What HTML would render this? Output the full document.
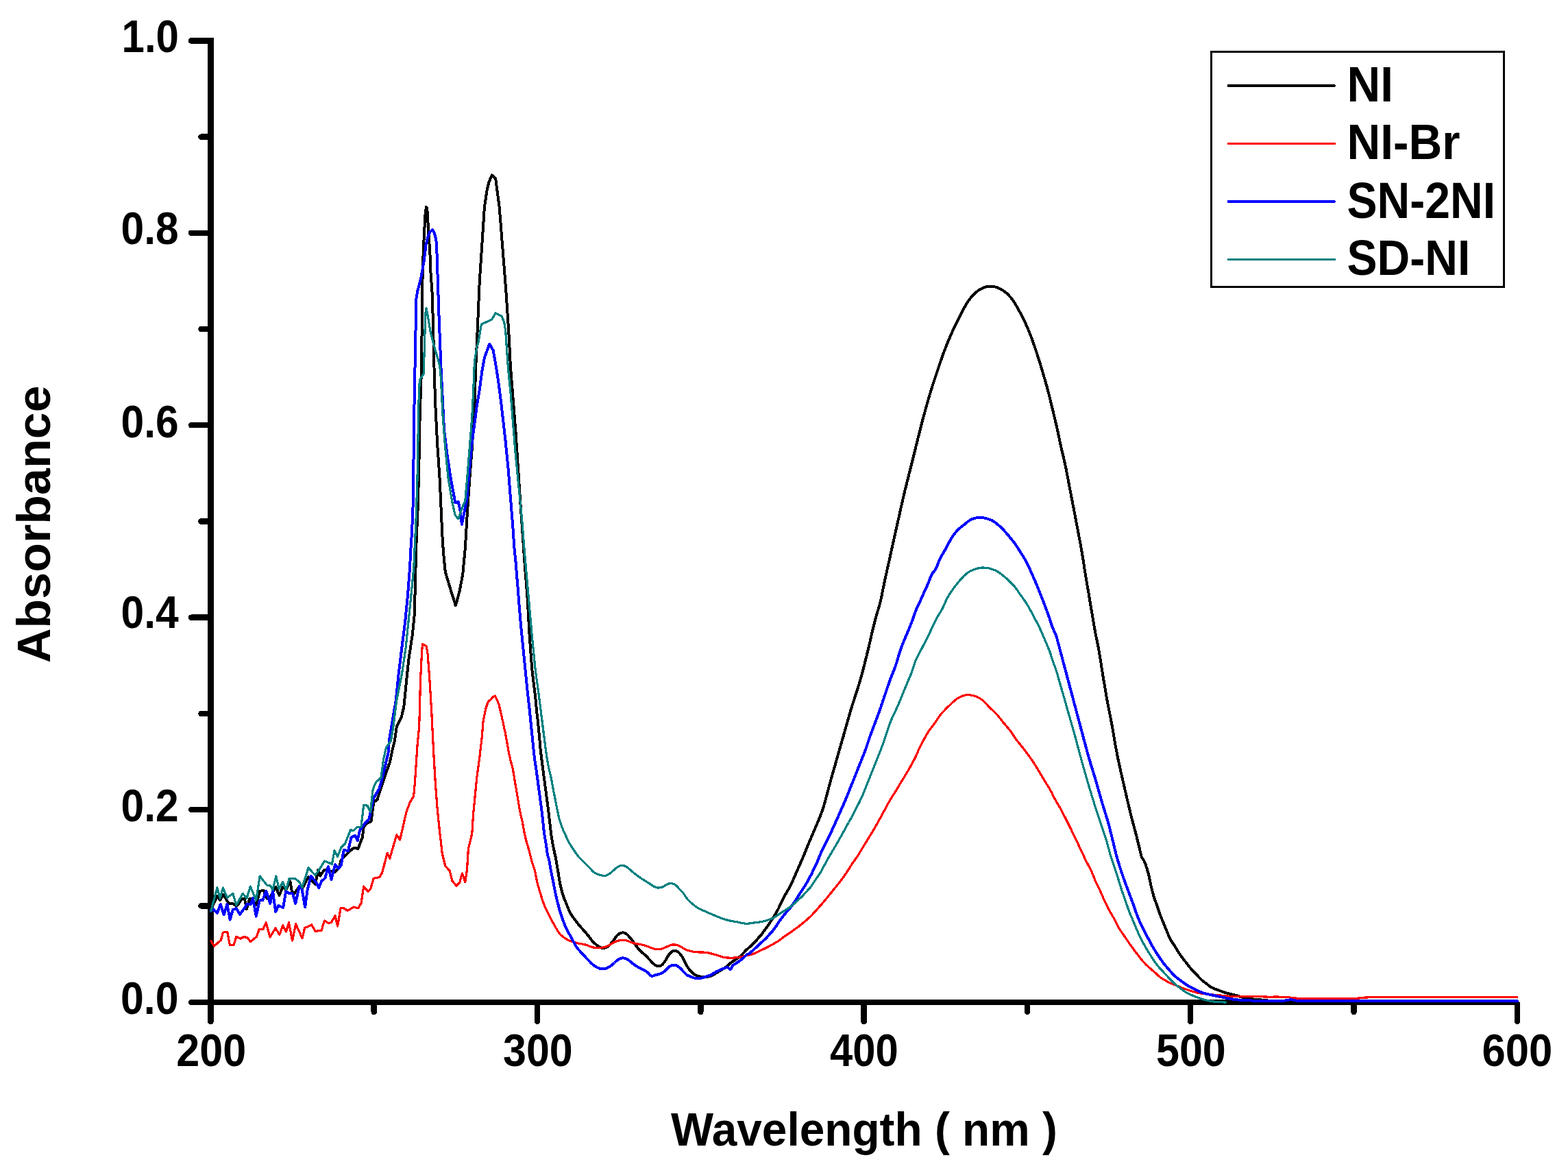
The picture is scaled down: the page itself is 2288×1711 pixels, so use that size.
<!DOCTYPE html>
<html><head><meta charset="utf-8"><title>Absorbance spectra</title>
<style>html,body{margin:0;padding:0;background:#fff;overflow:hidden;}svg{display:block;}</style>
</head><body>
<svg width="2288" height="1711" viewBox="0 0 2288 1711" shape-rendering="crispEdges">
<rect width="2288" height="1711" fill="#fff"/>
<path d="M307.4,55 L307.4,1490" stroke="#000" stroke-width="8.5" stroke-linecap="butt" fill="none"/>
<circle cx="307.4" cy="1490" r="4.25" fill="#000"/>
<path d="M307.4,1462.0 L2213.9,1462.0" stroke="#000" stroke-width="8.5" fill="none"/>
<path d="M279,1462.0 L305,1462.0" stroke="#000" stroke-width="8.5" stroke-linecap="round" fill="none"/>
<path d="M293.5,1321.3 L305,1321.3" stroke="#000" stroke-width="8.5" stroke-linecap="round" fill="none"/>
<path d="M279,1181.1 L305,1181.1" stroke="#000" stroke-width="8.5" stroke-linecap="round" fill="none"/>
<path d="M293.5,1040.9 L305,1040.9" stroke="#000" stroke-width="8.5" stroke-linecap="round" fill="none"/>
<path d="M279,900.7 L305,900.7" stroke="#000" stroke-width="8.5" stroke-linecap="round" fill="none"/>
<path d="M293.5,760.5 L305,760.5" stroke="#000" stroke-width="8.5" stroke-linecap="round" fill="none"/>
<path d="M279,620.2 L305,620.2" stroke="#000" stroke-width="8.5" stroke-linecap="round" fill="none"/>
<path d="M293.5,480.0 L305,480.0" stroke="#000" stroke-width="8.5" stroke-linecap="round" fill="none"/>
<path d="M279,339.8 L305,339.8" stroke="#000" stroke-width="8.5" stroke-linecap="round" fill="none"/>
<path d="M293.5,199.6 L305,199.6" stroke="#000" stroke-width="8.5" stroke-linecap="round" fill="none"/>
<path d="M279,59.4 L305,59.4" stroke="#000" stroke-width="8.5" stroke-linecap="round" fill="none"/>
<path d="M545.7,1464.0 L545.7,1476" stroke="#000" stroke-width="8.5" stroke-linecap="round" fill="none"/>
<path d="M784.0,1464.0 L784.0,1490" stroke="#000" stroke-width="8.5" stroke-linecap="round" fill="none"/>
<path d="M1022.3,1464.0 L1022.3,1476" stroke="#000" stroke-width="8.5" stroke-linecap="round" fill="none"/>
<path d="M1260.6,1464.0 L1260.6,1490" stroke="#000" stroke-width="8.5" stroke-linecap="round" fill="none"/>
<path d="M1498.9,1464.0 L1498.9,1476" stroke="#000" stroke-width="8.5" stroke-linecap="round" fill="none"/>
<path d="M1737.2,1464.0 L1737.2,1490" stroke="#000" stroke-width="8.5" stroke-linecap="round" fill="none"/>
<path d="M1975.5,1464.0 L1975.5,1476" stroke="#000" stroke-width="8.5" stroke-linecap="round" fill="none"/>
<path d="M2213.9,1464.0 L2213.9,1490" stroke="#000" stroke-width="8.5" stroke-linecap="round" fill="none"/>
<path d="M307.9,1326.3 L316.9,1307.0 L321.2,1313.0 L326.0,1304.6 L331.4,1314.2 L335.1,1318.5 L339.9,1317.9 L344.7,1321.5 L348.4,1317.9 L353.2,1310.6 L356.8,1310.6 L359.9,1326.3 L364.1,1311.2 L367.7,1310.6 L373.8,1320.3 L379.2,1299.7 L384.7,1299.1 L389.5,1310.6 L393.1,1310.6 L402.2,1293.7 L407.6,1305.8 L412.5,1293.7 L417.3,1297.9 L423.4,1285.2 L425.8,1299.7 L429.4,1303.4 L435.4,1294.9 L441.5,1294.9 L450.0,1279.2 L460.0,1290.1 L464.5,1268.6 L467.2,1277.6 L473.5,1268.6 L481.7,1270.4 L488.1,1272.2 L494.4,1266.8 L498.0,1254.1 L502.6,1249.5 L510.7,1241.4 L516.2,1236.8 L522.5,1237.8 L528.8,1221.4 L530.7,1206.9 L534.3,1201.5 L541.5,1197.9 L545.2,1170.7 L550.6,1166.1 L556.0,1148.9 L563.3,1127.1 L568.7,1112.6 L572.4,1094.5 L576.0,1080.0 L578.7,1060.5 L585.5,1046.9 L589.3,1031.5 L592.2,1002.4 L596.1,963.8 L601.9,925.1 L604.8,896.1 L607.2,799.9 L609.9,735.7 L611.7,663.2 L612.6,608.8 L614.5,554.4 L615.4,500.0 L616.6,400.0 L616.9,383.1 L617.9,366.5 L618.6,347.9 L619.6,329.9 L620.6,311.9 L621.9,302.0 L623.3,303.3 L623.9,316.6 L624.9,329.9 L625.9,349.9 L627.2,363.2 L627.9,383.1 L628.6,400.0 L630.8,429.5 L632.6,500.0 L633.5,536.3 L635.3,590.7 L638.0,645.1 L641.7,699.5 L645.3,780.0 L647.1,807.2 L649.8,834.4 L658.0,861.6 L664.9,883.4 L670.7,861.6 L675.2,838.0 L678.8,799.9 L681.5,753.9 L685.2,699.5 L688.8,654.1 L692.4,590.7 L694.2,536.3 L697.0,474.8 L699.7,411.3 L703.3,356.9 L706.9,302.5 L710.6,277.1 L713.3,266.3 L717.8,255.4 L723.2,260.8 L725.1,275.3 L728.7,302.5 L732.3,347.9 L735.9,393.2 L738.7,429.5 L742.3,483.9 L745.0,536.3 L745.2,538.3 L745.3,540.3 L745.5,542.2 L745.6,544.2 L745.8,546.2 L746.0,548.2 L746.1,550.2 L746.3,552.2 L746.4,554.2 L746.6,556.2 L746.8,558.2 L746.9,560.2 L747.1,562.2 L747.2,564.2 L747.4,566.2 L747.6,568.2 L747.7,570.2 L747.9,572.2 L748.0,574.1 L748.2,576.1 L748.4,578.1 L748.5,580.1 L748.7,582.1 L748.8,584.1 L749.0,586.1 L749.2,588.1 L749.3,590.1 L749.5,592.1 L749.6,594.1 L749.8,596.1 L749.9,598.1 L750.1,600.1 L750.3,602.1 L750.4,604.1 L750.6,606.0 L750.7,608.0 L750.9,610.0 L751.1,612.0 L751.2,614.0 L751.4,616.0 L751.5,618.0 L751.7,620.0 L751.9,622.0 L752.0,624.0 L752.2,626.0 L752.3,628.0 L752.5,630.0 L752.6,632.0 L752.7,634.0 L752.9,636.0 L753.0,638.0 L753.1,640.0 L753.3,642.0 L753.4,643.9 L753.5,645.9 L753.7,647.9 L753.8,649.9 L753.9,651.9 L754.1,653.9 L754.2,655.9 L754.3,657.9 L754.5,659.9 L754.6,661.9 L754.7,663.9 L754.9,665.9 L755.0,667.9 L755.1,669.9 L755.3,671.9 L755.4,673.9 L755.5,675.9 L755.7,677.9 L755.8,679.9 L755.9,681.9 L756.1,683.9 L756.2,685.9 L756.3,687.9 L756.5,689.9 L756.6,691.8 L756.7,693.8 L756.9,695.8 L757.0,697.8 L757.1,699.8 L757.3,701.8 L757.4,703.8 L757.5,705.8 L757.6,707.8 L757.8,709.8 L757.9,711.8 L758.0,713.8 L758.2,715.8 L758.3,717.8 L758.4,719.8 L758.6,721.8 L758.7,723.8 L758.8,725.8 L759.0,727.8 L759.1,729.8 L759.2,731.8 L759.4,733.8 L759.5,735.8 L759.7,737.7 L759.8,739.7 L759.9,741.7 L760.1,743.7 L760.2,745.7 L760.4,747.7 L760.5,749.7 L760.6,751.7 L760.8,753.7 L760.9,755.7 L761.1,757.7 L761.2,759.7 L761.3,761.7 L761.5,763.7 L761.6,765.7 L761.8,767.7 L761.9,769.7 L762.0,771.7 L762.2,773.7 L762.3,775.7 L762.5,777.7 L762.6,779.6 L762.8,781.6 L762.9,783.6 L763.0,785.6 L763.2,787.6 L763.3,789.6 L763.5,791.6 L763.6,793.6 L763.7,795.6 L763.9,797.6 L764.0,799.6 L764.2,801.6 L764.3,803.6 L764.4,805.6 L764.6,807.6 L764.7,809.6 L764.9,811.6 L765.0,813.6 L765.2,815.6 L765.3,817.6 L765.4,819.6 L765.6,821.5 L765.7,823.5 L765.9,825.5 L766.0,827.5 L766.2,829.5 L766.4,831.5 L766.5,833.5 L766.7,835.5 L766.8,837.5 L767.0,839.5 L767.1,841.5 L767.3,843.5 L767.5,845.5 L767.6,847.5 L767.8,849.5 L767.9,851.5 L768.1,853.5 L768.3,855.4 L768.4,857.4 L768.6,859.4 L768.7,861.4 L768.9,863.4 L769.1,865.4 L769.2,867.4 L769.3,869.4 L769.5,871.4 L769.6,873.4 L769.7,875.4 L769.8,877.4 L770.0,879.4 L770.1,881.4 L770.2,883.4 L770.3,885.4 L770.4,887.4 L770.5,889.4 L770.6,891.4 L770.7,893.4 L770.8,895.4 L770.9,897.4 L771.1,899.4 L771.2,901.4 L771.3,903.4 L771.4,905.3 L771.5,907.3 L771.6,909.3 L771.7,911.3 L771.8,913.3 L771.9,915.3 L772.0,917.3 L772.2,919.3 L772.3,921.3 L772.4,923.3 L772.5,925.3 L772.6,927.3 L772.7,929.3 L772.9,931.3 L773.0,933.3 L773.2,935.3 L773.3,937.3 L773.5,939.3 L773.6,941.3 L773.8,943.3 L773.9,945.3 L774.1,947.3 L774.2,949.3 L774.4,951.3 L774.5,953.2 L774.7,955.2 L774.8,957.2 L775.0,959.2 L775.1,961.2 L775.3,963.2 L775.4,965.2 L775.6,967.2 L775.7,969.2 L775.9,971.2 L776.0,973.2 L776.2,975.2 L776.4,977.2 L776.6,979.2 L776.8,981.1 L777.1,983.1 L777.3,985.1 L777.6,987.1 L777.8,989.1 L778.1,991.1 L778.3,993.1 L778.5,995.0 L778.8,997.0 L779.0,999.0 L779.3,1001.0 L779.5,1003.0 L779.8,1005.0 L780.0,1007.0 L780.3,1008.9 L780.5,1010.9 L780.7,1012.9 L781.0,1014.9 L781.2,1016.9 L781.4,1018.9 L781.6,1020.9 L781.8,1022.9 L782.0,1024.8 L782.1,1026.8 L782.3,1028.8 L782.5,1030.8 L782.7,1032.8 L782.8,1034.8 L783.1,1036.8 L783.3,1038.8 L783.5,1040.8 L783.8,1042.8 L784.0,1044.7 L784.2,1046.7 L784.5,1048.7 L784.7,1050.7 L784.9,1052.7 L785.1,1054.7 L785.3,1056.7 L785.5,1058.7 L785.7,1060.7 L785.9,1062.6 L786.1,1064.6 L786.3,1066.6 L786.5,1068.6 L786.7,1070.6 L786.9,1072.6 L787.1,1074.6 L787.3,1076.6 L787.4,1078.6 L787.6,1080.6 L787.8,1082.6 L787.9,1084.5 L788.1,1086.5 L788.3,1088.5 L788.4,1090.5 L788.6,1092.5 L788.8,1094.5 L789.0,1096.5 L789.3,1098.5 L789.5,1100.5 L789.8,1102.5 L790.0,1104.4 L790.3,1106.4 L790.5,1108.4 L790.8,1110.4 L791.0,1112.4 L791.2,1114.4 L791.5,1116.3 L791.7,1118.3 L792.0,1120.3 L792.3,1122.3 L792.5,1124.3 L792.8,1126.3 L793.0,1128.2 L793.3,1130.2 L793.6,1132.2 L793.8,1134.2 L794.1,1136.2 L794.4,1138.2 L794.6,1140.1 L794.9,1142.1 L795.2,1144.1 L795.4,1146.1 L795.7,1148.1 L796.0,1150.1 L796.2,1152.0 L796.5,1154.0 L796.7,1156.0 L797.0,1158.0 L797.3,1160.0 L797.5,1162.0 L797.8,1163.9 L798.1,1165.9 L798.3,1167.9 L798.6,1169.9 L798.9,1171.9 L799.1,1173.8 L799.4,1175.8 L799.6,1177.8 L799.9,1179.8 L800.2,1181.8 L800.4,1183.8 L800.6,1185.8 L800.9,1187.7 L801.1,1189.7 L801.3,1191.7 L801.5,1193.7 L801.7,1195.7 L802.0,1197.7 L802.2,1199.7 L802.5,1201.6 L802.7,1203.6 L803.0,1205.6 L803.2,1207.6 L803.4,1209.6 L803.6,1211.6 L803.9,1213.6 L804.1,1215.5 L804.4,1217.5 L804.6,1219.5 L805.0,1221.5 L805.3,1223.5 L805.6,1225.4 L805.9,1227.4 L806.3,1229.4 L806.6,1231.3 L807.0,1233.3 L807.4,1235.3 L807.8,1237.2 L808.2,1239.2 L808.6,1241.1 L809.0,1243.1 L809.4,1245.0 L809.9,1247.0 L810.3,1248.9 L810.8,1250.9 L811.1,1252.8 L811.5,1254.8 L811.8,1256.8 L812.2,1258.8 L812.5,1260.7 L812.8,1262.7 L813.1,1264.7 L813.5,1266.6 L813.8,1268.6 L814.1,1270.6 L814.5,1272.6 L814.8,1274.5 L815.1,1276.5 L815.4,1278.5 L815.7,1280.5 L816.0,1282.4 L816.4,1284.4 L816.7,1286.4 L817.1,1288.3 L817.5,1290.3 L818.0,1292.2 L818.4,1294.2 L818.9,1296.1 L819.4,1298.1 L819.9,1300.0 L820.4,1301.9 L821.0,1303.8 L821.6,1305.8 L822.2,1307.6 L822.9,1309.5 L823.6,1311.4 L824.3,1313.2 L825.1,1315.1 L825.9,1316.9 L826.6,1318.8 L827.4,1320.6 L828.1,1322.5 L828.8,1324.3 L829.6,1326.2 L830.4,1328.0 L831.2,1329.8 L832.1,1331.6 L833.1,1333.3 L834.2,1335.0 L835.3,1336.7 L836.4,1338.3 L837.6,1339.9 L838.8,1341.5 L840.0,1343.1 L841.2,1344.7 L842.5,1346.3 L843.7,1347.8 L845.0,1349.4 L846.2,1350.9 L847.5,1352.4 L848.9,1353.9 L850.2,1355.4 L851.5,1356.9 L852.8,1358.4 L854.2,1359.9 L855.5,1361.4 L856.8,1362.9 L858.0,1364.5 L859.3,1366.0 L860.5,1367.6 L861.7,1369.2 L862.9,1370.8 L864.1,1372.3 L865.5,1373.8 L866.8,1375.2 L868.3,1376.5 L869.8,1377.8 L871.3,1379.1 L872.9,1380.2 L874.6,1381.2 L876.2,1382.1 L878.0,1382.7 L879.8,1382.9 L881.5,1382.9 L883.3,1382.5 L885.0,1381.8 L886.6,1380.9 L888.1,1379.8 L889.5,1378.5 L890.9,1377.0 L892.2,1375.5 L893.4,1374.0 L894.6,1372.4 L895.8,1370.8 L897.0,1369.2 L898.1,1367.6 L899.3,1366.0 L900.6,1364.5 L901.9,1363.2 L903.4,1362.1 L905.1,1361.2 L906.7,1360.7 L908.5,1360.4 L910.2,1360.5 L911.8,1361.0 L913.4,1361.8 L914.9,1362.9 L916.2,1364.2 L917.5,1365.6 L918.8,1367.1 L920.1,1368.6 L921.3,1370.2 L922.6,1371.8 L923.8,1373.4 L924.9,1375.0 L926.1,1376.6 L927.2,1378.2 L928.4,1379.9 L929.6,1381.5 L930.8,1383.0 L932.1,1384.5 L933.4,1386.0 L934.8,1387.4 L936.3,1388.7 L937.8,1390.0 L939.3,1391.3 L940.8,1392.6 L942.3,1394.0 L943.7,1395.4 L945.0,1396.8 L946.4,1398.3 L947.7,1399.7 L949.1,1401.2 L950.4,1402.7 L951.8,1404.1 L953.2,1405.5 L954.7,1406.7 L956.3,1407.8 L957.9,1408.7 L959.5,1409.2 L961.1,1409.4 L962.6,1409.2 L964.1,1408.6 L965.6,1407.6 L966.9,1406.4 L968.2,1404.9 L969.4,1403.4 L970.5,1401.8 L971.5,1400.1 L972.5,1398.4 L973.5,1396.6 L974.6,1394.9 L975.7,1393.3 L976.8,1391.7 L978.0,1390.2 L979.4,1388.9 L980.8,1387.8 L982.2,1386.9 L983.7,1386.5 L985.3,1386.5 L986.8,1386.9 L988.3,1387.7 L989.7,1388.8 L991.1,1390.0 L992.4,1391.5 L993.6,1393.0 L994.7,1394.6 L995.8,1396.3 L996.7,1398.1 L997.6,1399.8 L998.5,1401.6 L998.9,1402.5 L1003.4,1410.7 L1004.6,1412.3 L1005.8,1413.9 L1007.0,1415.5 L1008.3,1417.0 L1009.7,1418.4 L1011.2,1419.7 L1012.7,1421.0 L1014.4,1422.1 L1016.1,1423.0 L1017.9,1423.7 L1019.8,1424.3 L1021.8,1424.5 L1023.8,1424.7 L1025.8,1424.7 L1027.8,1424.7 L1029.8,1424.7 L1031.8,1424.7 L1033.7,1424.6 L1035.6,1424.3 L1037.5,1423.7 L1039.2,1422.9 L1040.9,1421.9 L1042.6,1420.8 L1044.3,1419.8 L1046.0,1418.7 L1047.8,1417.7 L1049.5,1416.7 L1051.2,1415.6 L1052.9,1414.6 L1054.6,1413.6 L1056.3,1412.5 L1058.0,1411.4 L1059.6,1410.3 L1061.2,1409.0 L1062.7,1407.7 L1064.2,1406.4 L1065.7,1405.1 L1067.3,1403.8 L1068.8,1402.6 L1070.5,1401.5 L1072.2,1400.4 L1073.9,1399.3 L1075.6,1398.3 L1077.2,1397.1 L1078.8,1396.0 L1080.4,1394.7 L1081.9,1393.4 L1083.3,1391.9 L1084.6,1390.5 L1085.9,1389.0 L1087.3,1387.5 L1088.7,1386.1 L1090.1,1384.7 L1091.6,1383.3 L1093.1,1382.0 L1094.6,1380.7 L1096.1,1379.3 L1097.6,1378.0 L1099.0,1376.6 L1100.4,1375.2 L1101.8,1373.7 L1103.2,1372.3 L1104.5,1370.8 L1105.7,1369.3 L1106.9,1367.8 L1108.2,1366.4 L1109.7,1365.2 L1109.7,1365.2 L1114.2,1358.9 L1115.4,1357.3 L1116.6,1355.7 L1117.8,1354.1 L1118.9,1352.5 L1120.1,1350.8 L1121.2,1349.2 L1122.4,1347.6 L1123.5,1345.9 L1124.6,1344.2 L1125.7,1342.6 L1126.8,1340.9 L1127.9,1339.2 L1128.9,1337.5 L1130.0,1335.8 L1131.0,1334.1 L1132.0,1332.4 L1133.0,1330.7 L1133.9,1328.9 L1134.9,1327.2 L1135.8,1325.4 L1136.7,1323.6 L1137.5,1321.9 L1138.3,1320.1 L1139.2,1318.3 L1140.0,1316.5 L1140.9,1314.7 L1141.7,1312.9 L1142.6,1311.2 L1143.5,1309.4 L1144.5,1307.7 L1145.4,1305.9 L1146.4,1304.2 L1147.4,1302.5 L1148.4,1300.8 L1149.4,1299.1 L1150.4,1297.3 L1151.4,1295.6 L1152.3,1293.8 L1153.2,1292.1 L1154.1,1290.3 L1155.0,1288.5 L1155.8,1286.7 L1156.7,1284.9 L1157.5,1283.1 L1158.3,1281.3 L1159.1,1279.4 L1159.9,1277.6 L1160.7,1275.8 L1161.5,1273.9 L1162.3,1272.1 L1163.1,1270.3 L1163.9,1268.4 L1164.7,1266.6 L1165.5,1264.8 L1166.3,1262.9 L1167.1,1261.1 L1167.9,1259.3 L1168.7,1257.4 L1169.5,1255.6 L1170.3,1253.8 L1171.1,1251.9 L1171.9,1250.1 L1172.6,1248.2 L1173.4,1246.4 L1174.2,1244.5 L1174.9,1242.7 L1175.7,1240.8 L1176.4,1239.0 L1177.2,1237.1 L1177.9,1235.3 L1178.7,1233.4 L1179.5,1231.6 L1180.2,1229.7 L1181.0,1227.9 L1181.8,1226.0 L1182.6,1224.2 L1183.4,1222.4 L1184.1,1220.5 L1184.9,1218.7 L1185.7,1216.8 L1186.5,1215.0 L1187.3,1213.2 L1188.1,1211.3 L1188.9,1209.5 L1189.6,1207.7 L1190.4,1205.8 L1191.2,1204.0 L1192.0,1202.1 L1192.8,1200.3 L1193.6,1198.4 L1194.3,1196.6 L1195.1,1194.8 L1195.9,1192.9 L1196.6,1191.1 L1197.3,1189.2 L1198.0,1187.3 L1198.7,1185.5 L1199.4,1183.6 L1200.1,1181.7 L1200.7,1179.8 L1201.3,1177.9 L1201.9,1176.0 L1202.5,1174.1 L1203.1,1172.2 L1203.6,1170.2 L1204.1,1168.3 L1204.7,1166.4 L1205.2,1164.5 L1205.7,1162.5 L1206.2,1160.6 L1206.7,1158.7 L1207.2,1156.7 L1207.7,1154.8 L1208.2,1152.9 L1208.8,1150.9 L1209.3,1149.0 L1209.8,1147.1 L1210.3,1145.1 L1210.8,1143.2 L1211.4,1141.3 L1211.9,1139.3 L1212.4,1137.4 L1213.0,1135.5 L1213.5,1133.6 L1214.1,1131.6 L1214.6,1129.7 L1215.2,1127.8 L1215.7,1125.9 L1216.3,1123.9 L1216.8,1122.0 L1217.4,1120.1 L1217.9,1118.2 L1218.5,1116.3 L1219.0,1114.3 L1219.6,1112.4 L1220.1,1110.5 L1220.7,1108.6 L1221.2,1106.6 L1221.8,1104.7 L1222.3,1102.8 L1222.9,1100.9 L1223.4,1098.9 L1224.0,1097.0 L1224.5,1095.1 L1225.1,1093.2 L1225.6,1091.3 L1226.2,1089.3 L1226.7,1087.4 L1227.3,1085.5 L1227.8,1083.6 L1228.4,1081.6 L1228.9,1079.7 L1229.5,1077.8 L1230.0,1075.9 L1230.6,1073.9 L1231.1,1072.0 L1231.7,1070.1 L1232.2,1068.2 L1232.8,1066.2 L1233.3,1064.3 L1233.9,1062.4 L1234.4,1060.5 L1235.0,1058.6 L1235.5,1056.6 L1236.1,1054.7 L1236.6,1052.8 L1237.2,1050.9 L1237.7,1048.9 L1238.3,1047.0 L1238.8,1045.1 L1239.4,1043.2 L1239.9,1041.3 L1240.5,1039.3 L1241.0,1037.4 L1241.6,1035.5 L1242.2,1033.6 L1242.8,1031.7 L1243.3,1029.8 L1243.9,1027.8 L1244.5,1025.9 L1245.1,1024.0 L1245.8,1022.1 L1246.4,1020.2 L1247.0,1018.3 L1247.6,1016.4 L1248.2,1014.5 L1248.8,1012.6 L1249.5,1010.7 L1250.1,1008.8 L1250.7,1006.9 L1251.3,1005.0 L1251.9,1003.1 L1252.5,1001.2 L1253.1,999.3 L1253.7,997.4 L1254.3,995.4 L1254.8,993.5 L1255.4,991.6 L1255.9,989.7 L1256.5,987.8 L1257.0,985.8 L1257.5,983.9 L1258.1,982.0 L1258.6,980.0 L1259.1,978.1 L1259.6,976.2 L1260.1,974.2 L1260.6,972.3 L1261.1,970.4 L1261.6,968.4 L1262.0,966.5 L1262.5,964.5 L1263.0,962.6 L1263.5,960.7 L1264.0,958.7 L1264.5,956.8 L1265.0,954.8 L1265.4,952.9 L1265.9,951.0 L1266.4,949.0 L1266.9,947.1 L1267.3,945.1 L1267.8,943.2 L1268.3,941.2 L1268.7,939.3 L1269.2,937.3 L1269.6,935.4 L1270.1,933.4 L1270.5,931.5 L1270.9,929.5 L1271.4,927.6 L1271.8,925.6 L1272.3,923.7 L1272.7,921.7 L1273.2,919.8 L1273.7,917.8 L1274.1,915.9 L1274.6,914.0 L1275.1,912.0 L1275.6,910.1 L1276.1,908.1 L1276.6,906.2 L1277.1,904.3 L1277.6,902.3 L1278.1,900.4 L1278.7,898.5 L1279.2,896.6 L1279.8,894.7 L1280.3,892.7 L1280.9,890.8 L1281.5,888.9 L1282.0,887.0 L1282.6,885.1 L1283.2,883.2 L1283.7,881.3 L1284.2,879.3 L1284.7,877.4 L1285.2,875.5 L1285.6,873.5 L1286.0,871.6 L1286.5,869.6 L1286.9,867.7 L1287.2,865.7 L1287.6,863.7 L1288.0,861.8 L1288.4,859.8 L1288.8,857.9 L1289.2,855.9 L1289.6,853.9 L1290.0,852.0 L1290.4,850.0 L1290.8,848.1 L1291.2,846.1 L1291.6,844.2 L1292.1,842.2 L1292.5,840.2 L1292.9,838.3 L1293.4,836.3 L1293.8,834.4 L1294.2,832.4 L1294.7,830.5 L1295.1,828.5 L1295.5,826.6 L1296.0,824.6 L1296.4,822.7 L1296.8,820.7 L1297.3,818.8 L1297.7,816.8 L1298.1,814.9 L1298.6,812.9 L1299.0,811.0 L1299.4,809.0 L1299.9,807.0 L1300.3,805.1 L1300.7,803.1 L1301.2,801.2 L1301.6,799.2 L1302.0,797.3 L1302.5,795.3 L1302.9,793.4 L1303.3,791.4 L1303.8,789.5 L1304.2,787.5 L1304.6,785.6 L1305.1,783.6 L1305.5,781.7 L1305.9,779.7 L1306.4,777.8 L1306.8,775.8 L1307.2,773.8 L1307.7,771.9 L1308.1,769.9 L1308.5,768.0 L1309.0,766.0 L1309.4,764.1 L1309.8,762.1 L1310.3,760.2 L1310.7,758.2 L1311.2,756.3 L1311.6,754.3 L1312.0,752.4 L1312.5,750.4 L1312.9,748.5 L1313.3,746.5 L1313.8,744.6 L1314.2,742.6 L1314.6,740.7 L1315.1,738.7 L1315.5,736.8 L1315.9,734.8 L1316.4,732.9 L1316.8,730.9 L1317.3,729.0 L1317.7,727.0 L1318.2,725.1 L1318.7,723.1 L1319.1,721.2 L1319.6,719.2 L1320.1,717.3 L1320.5,715.3 L1321.0,713.4 L1321.5,711.5 L1322.0,709.5 L1322.5,707.6 L1322.9,705.6 L1323.4,703.7 L1323.9,701.7 L1324.4,699.8 L1324.9,697.9 L1325.4,695.9 L1325.9,694.0 L1326.3,692.0 L1326.8,690.1 L1327.3,688.2 L1327.8,686.2 L1328.3,684.3 L1328.8,682.3 L1329.3,680.4 L1329.7,678.5 L1330.2,676.5 L1330.7,674.6 L1331.2,672.6 L1331.7,670.7 L1332.2,668.8 L1332.7,666.8 L1333.1,664.9 L1333.6,662.9 L1334.1,661.0 L1334.6,659.1 L1335.1,657.1 L1335.6,655.2 L1336.0,653.2 L1336.5,651.3 L1337.0,649.4 L1337.5,647.4 L1338.0,645.5 L1338.5,643.5 L1339.0,641.6 L1339.4,639.6 L1339.9,637.7 L1340.4,635.8 L1340.9,633.8 L1341.4,631.9 L1341.9,629.9 L1342.4,628.0 L1342.8,626.1 L1343.3,624.1 L1343.8,622.2 L1344.3,620.2 L1344.8,618.3 L1345.3,616.4 L1345.8,614.4 L1346.3,612.5 L1346.8,610.6 L1347.3,608.6 L1347.9,606.7 L1348.4,604.8 L1348.9,602.8 L1349.5,600.9 L1350.0,599.0 L1350.5,597.1 L1351.1,595.1 L1351.6,593.2 L1352.2,591.3 L1352.7,589.4 L1353.3,587.4 L1353.8,585.5 L1354.4,583.6 L1354.9,581.7 L1355.5,579.8 L1356.0,577.8 L1356.6,575.9 L1357.2,574.0 L1357.8,572.1 L1358.3,570.2 L1358.9,568.3 L1359.5,566.4 L1360.1,564.4 L1360.7,562.5 L1361.3,560.6 L1362.0,558.7 L1362.6,556.8 L1363.2,554.9 L1363.8,553.0 L1364.5,551.1 L1365.1,549.2 L1365.7,547.3 L1366.4,545.4 L1367.0,543.5 L1367.6,541.6 L1368.3,539.8 L1368.9,537.9 L1369.5,536.0 L1370.2,534.1 L1370.8,532.2 L1371.4,530.3 L1372.1,528.4 L1372.7,526.5 L1373.4,524.6 L1374.0,522.7 L1374.7,520.8 L1375.4,518.9 L1376.0,517.1 L1376.7,515.2 L1377.4,513.3 L1378.1,511.4 L1378.8,509.6 L1379.6,507.7 L1380.3,505.8 L1381.0,504.0 L1381.8,502.1 L1382.5,500.3 L1383.3,498.4 L1384.0,496.6 L1384.8,494.7 L1385.6,492.9 L1386.4,491.0 L1387.2,489.2 L1388.0,487.4 L1388.8,485.6 L1389.6,483.7 L1390.5,481.9 L1391.3,480.1 L1392.2,478.3 L1393.1,476.5 L1394.0,474.7 L1394.8,472.9 L1395.7,471.1 L1396.6,469.4 L1397.5,467.6 L1398.4,465.8 L1399.3,464.0 L1400.2,462.2 L1401.1,460.4 L1402.0,458.6 L1402.9,456.8 L1403.8,455.1 L1404.7,453.3 L1405.6,451.5 L1406.6,449.7 L1407.5,448.0 L1408.5,446.3 L1409.5,444.5 L1410.5,442.8 L1411.6,441.1 L1412.7,439.5 L1413.8,437.9 L1415.0,436.3 L1416.2,434.7 L1417.4,433.2 L1418.7,431.7 L1420.0,430.2 L1421.4,428.8 L1422.9,427.5 L1424.3,426.2 L1425.9,425.0 L1427.4,423.8 L1429.0,422.8 L1430.7,421.8 L1432.4,420.9 L1434.1,420.1 L1435.9,419.4 L1437.7,418.8 L1439.5,418.3 L1441.3,418.0 L1443.2,417.8 L1445.1,417.7 L1446.9,417.8 L1448.8,417.9 L1450.7,418.2 L1452.5,418.7 L1454.3,419.2 L1456.1,419.8 L1457.9,420.6 L1459.6,421.4 L1461.3,422.3 L1463.0,423.3 L1464.6,424.4 L1466.2,425.5 L1467.7,426.8 L1469.2,428.0 L1470.6,429.4 L1472.0,430.8 L1473.3,432.2 L1474.6,433.7 L1475.9,435.2 L1477.1,436.8 L1478.2,438.4 L1479.3,440.0 L1480.4,441.7 L1481.5,443.4 L1482.5,445.1 L1483.5,446.8 L1484.5,448.5 L1485.5,450.3 L1486.4,452.0 L1487.4,453.8 L1488.3,455.5 L1489.3,457.3 L1490.2,459.1 L1491.1,460.8 L1492.0,462.6 L1492.9,464.4 L1493.8,466.2 L1494.7,468.0 L1495.5,469.8 L1496.4,471.6 L1497.2,473.4 L1498.0,475.2 L1498.8,477.1 L1499.6,478.9 L1500.4,480.8 L1501.2,482.6 L1501.9,484.5 L1502.6,486.3 L1503.4,488.2 L1504.1,490.0 L1504.8,491.9 L1505.5,493.8 L1506.2,495.7 L1506.8,497.6 L1507.5,499.4 L1508.2,501.3 L1508.8,503.2 L1509.5,505.1 L1510.1,507.0 L1510.8,508.9 L1511.4,510.8 L1512.1,512.7 L1512.7,514.6 L1513.3,516.5 L1513.9,518.4 L1514.5,520.3 L1515.1,522.2 L1515.7,524.1 L1516.3,526.0 L1516.9,527.9 L1517.5,529.8 L1518.1,531.7 L1518.7,533.7 L1519.3,535.6 L1519.8,537.5 L1520.4,539.4 L1521.0,541.3 L1521.6,543.2 L1522.1,545.2 L1522.7,547.1 L1523.3,549.0 L1523.8,550.9 L1524.4,552.8 L1524.9,554.7 L1525.5,556.7 L1526.0,558.6 L1526.6,560.5 L1527.1,562.4 L1527.7,564.4 L1528.2,566.3 L1528.7,568.2 L1529.2,570.2 L1529.7,572.1 L1530.2,574.0 L1530.7,576.0 L1531.2,577.9 L1531.7,579.9 L1532.2,581.8 L1532.7,583.7 L1533.1,585.7 L1533.6,587.6 L1534.1,589.6 L1534.5,591.5 L1535.0,593.5 L1535.5,595.4 L1535.9,597.4 L1536.4,599.3 L1536.9,601.2 L1537.3,603.2 L1537.8,605.1 L1538.3,607.1 L1538.8,609.0 L1539.2,611.0 L1539.7,612.9 L1540.1,614.9 L1540.6,616.8 L1541.1,618.7 L1541.5,620.7 L1542.0,622.6 L1542.4,624.6 L1542.8,626.5 L1543.3,628.5 L1543.7,630.5 L1544.1,632.4 L1544.5,634.4 L1544.9,636.3 L1545.3,638.3 L1545.8,640.2 L1546.2,642.2 L1546.6,644.2 L1547.0,646.1 L1547.4,648.1 L1547.9,650.0 L1548.3,652.0 L1548.7,653.9 L1549.2,655.9 L1549.6,657.8 L1550.1,659.8 L1550.5,661.7 L1551.0,663.7 L1551.5,665.6 L1551.9,667.6 L1552.4,669.5 L1552.8,671.4 L1553.3,673.4 L1553.7,675.4 L1554.1,677.3 L1554.6,679.3 L1555.0,681.2 L1555.4,683.2 L1555.8,685.1 L1556.2,687.1 L1556.6,689.1 L1557.0,691.0 L1557.3,693.0 L1557.7,694.9 L1558.1,696.9 L1558.5,698.9 L1558.8,700.8 L1559.2,702.8 L1559.6,704.8 L1559.9,706.7 L1560.3,708.7 L1560.7,710.7 L1561.0,712.6 L1561.4,714.6 L1561.8,716.6 L1562.2,718.5 L1562.6,720.5 L1563.0,722.5 L1563.3,724.4 L1563.7,726.4 L1564.1,728.3 L1564.5,730.3 L1564.9,732.3 L1565.3,734.2 L1565.6,736.2 L1566.0,738.2 L1566.4,740.1 L1566.8,742.1 L1567.2,744.0 L1567.5,746.0 L1567.9,748.0 L1568.3,749.9 L1568.7,751.9 L1569.1,753.9 L1569.4,755.8 L1569.8,757.8 L1570.2,759.8 L1570.5,761.7 L1570.9,763.7 L1571.3,765.7 L1571.6,767.6 L1572.0,769.6 L1572.4,771.6 L1572.7,773.5 L1573.1,775.5 L1573.5,777.4 L1573.9,779.4 L1574.3,781.4 L1574.6,783.3 L1575.0,785.3 L1575.4,787.3 L1575.8,789.2 L1576.2,791.2 L1576.5,793.2 L1576.9,795.1 L1577.2,797.1 L1577.6,799.1 L1578.0,801.0 L1578.3,803.0 L1578.6,805.0 L1579.0,806.9 L1579.3,808.9 L1579.6,810.9 L1579.9,812.9 L1580.2,814.8 L1580.6,816.8 L1580.9,818.8 L1581.2,820.8 L1581.5,822.8 L1581.7,824.7 L1582.0,826.7 L1582.3,828.7 L1582.6,830.7 L1582.9,832.6 L1583.3,834.6 L1583.6,836.6 L1583.9,838.6 L1584.2,840.5 L1584.6,842.5 L1584.9,844.5 L1585.3,846.4 L1585.6,848.4 L1585.9,850.4 L1586.3,852.4 L1586.6,854.3 L1587.0,856.3 L1587.3,858.3 L1587.7,860.2 L1588.0,862.2 L1588.3,864.2 L1588.7,866.2 L1589.0,868.1 L1589.3,870.1 L1589.6,872.1 L1590.0,874.0 L1590.3,876.0 L1590.6,878.0 L1591.0,880.0 L1591.3,881.9 L1591.6,883.9 L1591.9,885.9 L1592.3,887.9 L1592.6,889.8 L1592.9,891.8 L1593.3,893.8 L1593.6,895.7 L1593.9,897.7 L1594.3,899.7 L1594.6,901.7 L1594.9,903.6 L1595.2,905.6 L1595.6,907.6 L1595.9,909.6 L1596.3,911.5 L1596.6,913.5 L1596.9,915.5 L1597.3,917.4 L1597.7,919.4 L1598.0,921.4 L1598.4,923.3 L1598.8,925.3 L1599.2,927.3 L1599.6,929.2 L1600.0,931.2 L1600.4,933.1 L1600.8,935.1 L1601.2,937.0 L1601.6,939.0 L1602.0,941.0 L1602.4,942.9 L1602.8,944.9 L1603.1,946.9 L1603.5,948.8 L1603.9,950.8 L1604.2,952.8 L1604.5,954.7 L1604.9,956.7 L1605.2,958.7 L1605.5,960.7 L1605.8,962.6 L1606.1,964.6 L1606.4,966.6 L1606.7,968.6 L1607.0,970.5 L1607.3,972.5 L1607.6,974.5 L1608.0,976.5 L1608.3,978.4 L1608.6,980.4 L1608.9,982.4 L1609.2,984.4 L1609.5,986.3 L1609.9,988.3 L1610.2,990.3 L1610.5,992.3 L1610.8,994.2 L1611.1,996.2 L1611.5,998.2 L1611.8,1000.2 L1612.1,1002.1 L1612.5,1004.1 L1612.8,1006.1 L1613.1,1008.0 L1613.5,1010.0 L1613.8,1012.0 L1614.2,1014.0 L1614.5,1015.9 L1614.9,1017.9 L1615.2,1019.9 L1615.6,1021.8 L1616.0,1023.8 L1616.3,1025.8 L1616.7,1027.7 L1617.1,1029.7 L1617.5,1031.7 L1617.9,1033.6 L1618.2,1035.6 L1618.6,1037.5 L1619.0,1039.5 L1619.4,1041.5 L1619.8,1043.4 L1620.2,1045.4 L1620.6,1047.4 L1620.9,1049.3 L1621.3,1051.3 L1621.7,1053.2 L1622.0,1055.2 L1622.4,1057.2 L1622.8,1059.1 L1623.1,1061.1 L1623.5,1063.1 L1623.8,1065.1 L1624.1,1067.0 L1624.5,1069.0 L1624.8,1071.0 L1625.1,1072.9 L1625.5,1074.9 L1625.8,1076.9 L1626.1,1078.9 L1626.5,1080.8 L1626.8,1082.8 L1627.2,1084.8 L1627.5,1086.7 L1627.9,1088.7 L1628.2,1090.7 L1628.6,1092.6 L1629.0,1094.6 L1629.4,1096.6 L1629.7,1098.5 L1630.1,1100.5 L1630.5,1102.5 L1630.9,1104.4 L1631.3,1106.4 L1631.7,1108.3 L1632.1,1110.3 L1632.6,1112.2 L1633.0,1114.2 L1633.4,1116.2 L1633.8,1118.1 L1634.2,1120.1 L1634.7,1122.0 L1635.1,1124.0 L1635.5,1125.9 L1636.0,1127.9 L1636.4,1129.8 L1636.9,1131.8 L1637.3,1133.7 L1637.8,1135.7 L1638.2,1137.6 L1638.7,1139.6 L1639.1,1141.5 L1639.6,1143.5 L1640.0,1145.4 L1640.5,1147.4 L1640.9,1149.3 L1641.4,1151.3 L1641.8,1153.2 L1642.3,1155.2 L1642.7,1157.1 L1643.2,1159.1 L1643.6,1161.0 L1644.1,1163.0 L1644.5,1164.9 L1645.0,1166.9 L1645.4,1168.8 L1645.9,1170.8 L1646.4,1172.7 L1646.8,1174.6 L1647.3,1176.6 L1647.7,1178.5 L1648.2,1180.5 L1648.7,1182.4 L1649.1,1184.4 L1649.6,1186.3 L1650.1,1188.3 L1650.6,1190.2 L1651.1,1192.1 L1651.6,1194.1 L1652.1,1196.0 L1652.6,1197.9 L1653.1,1199.9 L1653.6,1201.8 L1654.1,1203.7 L1654.7,1205.7 L1655.2,1207.6 L1655.7,1209.5 L1656.2,1211.5 L1656.7,1213.4 L1657.2,1215.3 L1657.8,1217.3 L1658.3,1219.2 L1658.5,1220.2 L1665.8,1250.2 L1666.9,1251.8 L1668.0,1253.5 L1669.1,1255.2 L1670.0,1257.0 L1670.8,1258.8 L1671.5,1260.6 L1672.1,1262.5 L1672.7,1264.4 L1673.4,1266.3 L1673.9,1268.3 L1674.5,1270.2 L1675.0,1272.1 L1675.6,1274.0 L1676.1,1276.0 L1676.6,1277.9 L1677.0,1279.9 L1677.4,1281.8 L1677.8,1283.8 L1678.2,1285.8 L1678.6,1287.7 L1679.0,1289.7 L1679.4,1291.7 L1679.9,1293.6 L1680.4,1295.6 L1680.9,1297.5 L1681.4,1299.4 L1681.9,1301.4 L1682.4,1303.3 L1682.9,1305.2 L1683.5,1307.2 L1684.1,1309.1 L1684.7,1311.0 L1685.4,1312.9 L1686.1,1314.7 L1686.7,1316.6 L1687.4,1318.5 L1688.1,1320.4 L1688.7,1322.3 L1689.4,1324.2 L1690.0,1326.1 L1690.7,1328.0 L1691.3,1329.9 L1691.9,1331.8 L1692.6,1333.7 L1693.3,1335.6 L1694.0,1337.4 L1694.8,1339.3 L1695.5,1341.1 L1696.3,1343.0 L1697.1,1344.8 L1697.9,1346.7 L1698.6,1348.5 L1699.4,1350.4 L1700.1,1352.3 L1700.9,1354.1 L1701.6,1356.0 L1702.4,1357.8 L1703.1,1359.7 L1703.9,1361.5 L1704.7,1363.4 L1705.5,1365.2 L1706.3,1367.0 L1707.2,1368.8 L1708.1,1370.6 L1709.1,1372.3 L1710.2,1374.0 L1711.3,1375.7 L1712.4,1377.4 L1713.5,1379.0 L1714.6,1380.7 L1715.6,1382.4 L1716.7,1384.1 L1717.7,1385.8 L1718.8,1387.6 L1719.8,1389.3 L1720.9,1391.0 L1722.0,1392.6 L1723.1,1394.3 L1724.3,1395.9 L1725.6,1397.5 L1726.8,1399.0 L1728.0,1400.6 L1729.3,1402.2 L1730.5,1403.8 L1731.7,1405.4 L1732.9,1406.9 L1734.2,1408.5 L1735.4,1410.1 L1736.7,1411.7 L1738.0,1413.2 L1739.3,1414.7 L1740.7,1416.1 L1742.1,1417.5 L1743.5,1419.0 L1744.9,1420.4 L1746.3,1421.9 L1747.6,1423.3 L1748.9,1424.9 L1750.3,1426.4 L1751.6,1427.8 L1753.1,1429.2 L1754.6,1430.5 L1756.1,1431.7 L1757.8,1432.9 L1759.4,1434.1 L1761.0,1435.3 L1762.5,1436.5 L1764.1,1437.8 L1765.7,1439.0 L1767.3,1440.1 L1769.1,1441.0 L1770.9,1441.8 L1772.7,1442.5 L1774.6,1443.2 L1776.5,1443.9 L1778.4,1444.5 L1780.3,1445.2 L1782.2,1445.9 L1784.0,1446.6 L1785.9,1447.3 L1787.8,1447.9 L1789.8,1448.5 L1791.7,1449.0 L1793.6,1449.5 L1795.6,1449.9 L1797.5,1450.4 L1799.5,1450.8 L1801.4,1451.3 L1803.3,1451.9 L1805.3,1452.4 L1807.2,1453.0 L1809.1,1453.6 L1811.0,1454.2 L1813.0,1454.7 L1814.9,1455.3 L1816.8,1455.9 L1818.7,1456.3 L1820.7,1456.7 L1822.7,1457.0 L1824.7,1457.2 L1826.7,1457.4 L1828.7,1457.5 L1830.6,1457.7 L1832.6,1457.9 L1834.6,1458.0 L1836.6,1458.2 L1838.6,1458.4 L1840.6,1458.5 L1842.6,1458.7 L1844.6,1458.9 L1846.6,1459.0 L1848.6,1459.2 L1849.6,1459.3 L1850.0,1459.8 L1900.0,1460.3 L2214.0,1460.3" fill="none" stroke="#000000" stroke-width="4" stroke-linejoin="round" stroke-linecap="round"/>
<path d="M308.0,1372.8 L312.3,1380.0 L319.5,1373.9 L322.4,1371.4 L325.3,1360.5 L328.9,1359.4 L331.8,1359.8 L335.4,1378.6 L341.2,1378.6 L344.8,1366.3 L350.6,1369.2 L355.7,1366.7 L360.8,1367.4 L365.5,1373.5 L372.3,1368.1 L374.5,1366.3 L378.1,1355.8 L383.9,1355.4 L388.2,1345.7 L394.0,1367.0 L402.0,1354.0 L407.8,1363.4 L412.8,1349.7 L417.5,1359.1 L421.5,1345.7 L426.6,1372.1 L431.6,1347.8 L441.0,1368.5 L444.7,1353.3 L449.0,1351.8 L454.8,1348.9 L459.9,1358.3 L469.0,1357.4 L473.5,1342.9 L479.0,1346.5 L483.5,1345.6 L489.0,1335.7 L492.6,1351.1 L497.1,1324.8 L501.7,1324.8 L507.1,1328.4 L516.2,1323.0 L522.5,1324.8 L527.0,1317.5 L530.7,1293.1 L537.0,1300.3 L540.6,1296.7 L545.2,1281.3 L554.2,1279.5 L557.9,1272.2 L565.1,1244.1 L568.7,1252.3 L578.7,1217.8 L580.0,1219.6 L583.6,1225.0 L588.2,1205.1 L592.7,1185.1 L598.1,1170.6 L603.6,1161.5 L605.4,1141.6 L607.2,1114.4 L609.0,1087.2 L611.7,1060.0 L613.5,992.8 L615.4,954.1 L616.4,939.6 L622.2,942.5 L624.1,954.1 L627.0,992.8 L629.9,1041.1 L632.6,1096.3 L635.3,1141.6 L638.0,1177.9 L641.7,1214.1 L645.3,1245.0 L649.8,1263.1 L656.2,1270.3 L659.8,1284.8 L666.1,1292.1 L670.7,1287.6 L674.3,1274.0 L678.8,1286.7 L681.5,1268.5 L683.4,1237.7 L688.8,1215.9 L690.6,1186.9 L693.3,1159.7 L696.0,1132.5 L699.7,1105.3 L703.3,1074.5 L705.1,1052.0 L708.7,1033.9 L712.4,1023.0 L715.7,1020.9 L718.6,1017.3 L722.3,1015.1 L725.2,1020.9 L728.1,1028.1 L728.5,1030.1 L729.0,1032.0 L729.5,1034.0 L730.0,1035.9 L730.4,1037.9 L730.9,1039.8 L731.4,1041.8 L731.8,1043.7 L732.2,1045.7 L732.7,1047.6 L733.1,1049.6 L733.5,1051.5 L734.0,1053.5 L734.4,1055.4 L734.8,1057.4 L735.2,1059.3 L735.6,1061.3 L736.0,1063.3 L736.5,1065.2 L736.9,1067.2 L737.3,1069.1 L737.7,1071.1 L738.0,1073.1 L738.4,1075.0 L738.8,1077.0 L739.1,1079.0 L739.5,1080.9 L739.8,1082.9 L740.2,1084.9 L740.5,1086.9 L740.9,1088.8 L741.2,1090.8 L741.6,1092.8 L741.9,1094.7 L742.3,1096.7 L742.7,1098.7 L743.1,1100.6 L743.5,1102.6 L743.9,1104.5 L744.4,1106.5 L744.8,1108.4 L745.3,1110.4 L745.8,1112.3 L746.4,1114.2 L746.9,1116.2 L747.4,1118.1 L747.8,1120.0 L748.3,1122.0 L748.6,1124.0 L749.0,1125.9 L749.4,1127.9 L749.7,1129.9 L750.0,1131.8 L750.4,1133.8 L750.7,1135.8 L751.0,1137.8 L751.3,1139.7 L751.7,1141.7 L752.0,1143.7 L752.3,1145.7 L752.7,1147.6 L753.0,1149.6 L753.3,1151.6 L753.6,1153.6 L754.0,1155.5 L754.3,1157.5 L754.6,1159.5 L755.0,1161.4 L755.3,1163.4 L755.6,1165.4 L756.0,1167.4 L756.3,1169.3 L756.6,1171.3 L756.9,1173.3 L757.3,1175.3 L757.6,1177.2 L757.9,1179.2 L758.3,1181.2 L758.7,1183.1 L759.1,1185.1 L759.5,1187.1 L759.9,1189.0 L760.4,1191.0 L760.8,1192.9 L761.3,1194.9 L761.8,1196.8 L762.2,1198.8 L762.6,1200.7 L763.0,1202.7 L763.3,1204.6 L763.7,1206.6 L764.1,1208.6 L764.4,1210.6 L764.8,1212.5 L765.1,1214.5 L765.5,1216.4 L765.9,1218.4 L766.4,1220.4 L766.8,1222.3 L767.3,1224.2 L767.8,1226.2 L768.3,1228.1 L768.9,1230.0 L769.5,1231.9 L770.1,1233.8 L770.7,1235.8 L771.2,1237.7 L771.8,1239.6 L772.3,1241.5 L772.8,1243.5 L773.3,1245.4 L773.7,1247.4 L774.2,1249.3 L774.7,1251.3 L775.1,1253.2 L775.6,1255.1 L776.2,1257.0 L776.8,1258.9 L777.4,1260.8 L778.1,1262.7 L778.8,1264.5 L779.4,1266.4 L779.9,1268.3 L780.4,1270.2 L780.9,1272.2 L781.3,1274.1 L781.6,1276.1 L782.0,1278.1 L782.4,1280.0 L782.8,1282.0 L783.2,1283.9 L783.7,1285.9 L784.1,1287.8 L784.6,1289.8 L785.1,1291.7 L785.7,1293.6 L786.2,1295.5 L786.8,1297.5 L787.4,1299.4 L788.0,1301.3 L788.6,1303.2 L789.2,1305.1 L789.7,1307.0 L790.3,1308.9 L790.9,1310.9 L791.5,1312.8 L792.1,1314.7 L792.8,1316.5 L793.5,1318.4 L794.3,1320.3 L795.0,1322.1 L795.8,1323.9 L796.7,1325.8 L797.5,1327.6 L798.4,1329.4 L799.2,1331.2 L800.1,1333.0 L801.1,1334.7 L802.0,1336.5 L802.9,1338.3 L803.8,1340.1 L804.8,1341.8 L805.7,1343.6 L806.6,1345.4 L807.6,1347.1 L808.6,1348.9 L809.6,1350.6 L810.5,1352.3 L811.5,1354.1 L812.6,1355.8 L813.6,1357.5 L814.7,1359.2 L815.8,1360.8 L817.0,1362.3 L818.4,1363.7 L819.8,1365.0 L821.3,1366.2 L822.9,1367.4 L824.5,1368.5 L826.2,1369.5 L827.8,1370.5 L829.5,1371.4 L831.2,1372.3 L833.0,1372.9 L834.8,1373.5 L836.6,1374.0 L838.5,1374.6 L840.4,1375.1 L842.3,1375.6 L844.2,1376.1 L846.1,1376.5 L848.0,1376.8 L849.9,1377.1 L851.8,1377.5 L853.7,1377.9 L855.5,1378.4 L857.4,1379.1 L859.1,1379.8 L860.9,1380.5 L862.8,1381.2 L864.6,1381.7 L866.5,1382.1 L868.5,1382.3 L870.4,1382.4 L872.4,1382.5 L874.4,1382.5 L876.4,1382.4 L878.4,1382.3 L880.3,1382.0 L882.2,1381.6 L884.0,1381.0 L885.8,1380.3 L887.5,1379.4 L889.3,1378.4 L891.0,1377.4 L892.7,1376.4 L894.4,1375.4 L896.1,1374.4 L897.9,1373.6 L899.7,1373.0 L901.5,1372.4 L903.4,1371.9 L905.4,1371.6 L907.3,1371.4 L909.2,1371.3 L911.1,1371.4 L913.0,1371.7 L914.8,1372.2 L916.6,1372.8 L918.5,1373.5 L920.3,1374.2 L922.2,1374.9 L924.1,1375.5 L926.0,1376.0 L927.9,1376.4 L929.9,1376.8 L931.8,1377.1 L933.8,1377.4 L935.8,1377.8 L937.7,1378.2 L939.6,1378.7 L941.5,1379.3 L943.4,1379.9 L945.2,1380.6 L947.1,1381.3 L949.0,1382.1 L950.8,1382.8 L952.7,1383.4 L954.5,1384.0 L956.4,1384.4 L958.3,1384.7 L960.3,1384.8 L962.2,1384.6 L964.1,1384.3 L966.0,1383.9 L967.9,1383.3 L969.7,1382.5 L971.5,1381.7 L973.3,1380.9 L975.1,1380.0 L976.9,1379.3 L978.7,1378.6 L980.5,1378.1 L982.4,1377.9 L984.2,1377.9 L986.1,1378.1 L988.0,1378.6 L989.8,1379.2 L991.6,1379.9 L991.6,1379.9 L1001.6,1385.8 L1003.5,1386.3 L1005.5,1386.8 L1007.4,1387.2 L1009.4,1387.7 L1011.3,1388.1 L1013.3,1388.4 L1015.3,1388.6 L1017.2,1388.8 L1019.2,1388.9 L1021.2,1389.0 L1023.2,1389.0 L1025.2,1389.0 L1027.2,1389.1 L1029.2,1389.3 L1031.1,1389.5 L1033.1,1389.8 L1035.0,1390.2 L1036.9,1390.7 L1038.8,1391.2 L1040.8,1391.8 L1042.7,1392.3 L1044.6,1392.8 L1046.5,1393.4 L1048.4,1394.0 L1050.3,1394.7 L1052.1,1395.3 L1054.0,1395.8 L1055.9,1396.3 L1057.8,1396.6 L1059.8,1396.9 L1061.8,1397.0 L1063.8,1397.1 L1065.7,1397.1 L1067.7,1397.1 L1069.7,1397.1 L1071.7,1397.0 L1073.7,1396.9 L1075.7,1396.8 L1077.6,1396.5 L1079.6,1396.1 L1081.5,1395.7 L1083.5,1395.3 L1085.4,1394.8 L1087.4,1394.3 L1089.3,1393.9 L1091.2,1393.5 L1093.2,1393.0 L1095.1,1392.5 L1097.0,1392.0 L1098.9,1391.4 L1100.8,1390.7 L1102.6,1389.9 L1104.4,1389.1 L1106.2,1388.2 L1108.0,1387.4 L1109.8,1386.5 L1111.6,1385.6 L1113.4,1384.8 L1115.2,1383.9 L1117.0,1383.0 L1118.8,1382.1 L1120.6,1381.2 L1122.3,1380.3 L1124.1,1379.3 L1125.8,1378.3 L1127.6,1377.3 L1129.3,1376.4 L1131.1,1375.4 L1132.8,1374.4 L1134.5,1373.5 L1136.1,1372.4 L1137.7,1371.3 L1139.2,1370.2 L1140.7,1369.0 L1142.1,1367.8 L1143.6,1366.6 L1145.2,1365.5 L1146.8,1364.4 L1148.4,1363.4 L1150.1,1362.3 L1151.8,1361.2 L1153.4,1360.1 L1155.1,1358.9 L1156.7,1357.8 L1158.3,1356.6 L1159.9,1355.4 L1161.5,1354.2 L1163.1,1353.1 L1164.7,1351.9 L1166.3,1350.7 L1167.9,1349.4 L1169.5,1348.2 L1171.0,1346.9 L1172.6,1345.6 L1174.1,1344.4 L1175.6,1343.1 L1177.1,1341.8 L1178.6,1340.4 L1180.1,1339.1 L1181.6,1337.7 L1183.0,1336.3 L1184.4,1334.9 L1185.8,1333.5 L1187.2,1332.0 L1188.5,1330.5 L1189.9,1329.1 L1191.2,1327.6 L1192.5,1326.1 L1193.8,1324.6 L1195.2,1323.1 L1196.5,1321.6 L1197.8,1320.1 L1199.2,1318.6 L1200.5,1317.1 L1201.8,1315.6 L1203.1,1314.0 L1204.3,1312.5 L1205.6,1311.0 L1206.9,1309.4 L1208.1,1307.9 L1209.4,1306.3 L1210.7,1304.8 L1211.9,1303.2 L1213.2,1301.6 L1214.5,1300.1 L1215.7,1298.5 L1217.0,1297.0 L1218.3,1295.4 L1219.5,1293.9 L1220.8,1292.3 L1222.0,1290.8 L1223.3,1289.2 L1224.5,1287.7 L1225.8,1286.1 L1227.0,1284.5 L1228.2,1282.9 L1229.3,1281.3 L1230.5,1279.6 L1231.7,1278.0 L1232.8,1276.4 L1233.9,1274.7 L1235.1,1273.1 L1236.2,1271.4 L1237.2,1269.7 L1238.3,1268.0 L1239.4,1266.3 L1240.4,1264.6 L1241.5,1262.9 L1242.6,1261.3 L1243.7,1259.6 L1244.8,1258.0 L1246.0,1256.3 L1247.2,1254.7 L1248.3,1253.1 L1249.5,1251.5 L1250.6,1249.8 L1251.7,1248.1 L1252.8,1246.5 L1253.8,1244.8 L1254.9,1243.0 L1255.9,1241.3 L1256.9,1239.6 L1258.0,1237.9 L1259.0,1236.2 L1260.0,1234.5 L1261.0,1232.7 L1262.1,1231.0 L1263.1,1229.3 L1264.2,1227.6 L1265.2,1225.9 L1266.3,1224.2 L1267.3,1222.5 L1268.4,1220.8 L1269.4,1219.1 L1270.5,1217.4 L1271.6,1215.7 L1272.6,1214.0 L1273.6,1212.3 L1274.7,1210.6 L1275.7,1208.9 L1276.7,1207.1 L1277.7,1205.4 L1278.6,1203.6 L1279.6,1201.9 L1280.6,1200.1 L1281.6,1198.4 L1282.5,1196.6 L1283.5,1194.9 L1284.5,1193.1 L1285.4,1191.4 L1286.4,1189.6 L1287.4,1187.9 L1288.3,1186.1 L1289.3,1184.4 L1290.2,1182.6 L1291.2,1180.9 L1292.1,1179.1 L1293.1,1177.3 L1294.0,1175.6 L1295.0,1173.8 L1295.9,1172.1 L1296.9,1170.3 L1297.9,1168.6 L1298.9,1166.8 L1299.9,1165.1 L1301.0,1163.4 L1302.1,1161.7 L1303.2,1160.1 L1304.3,1158.4 L1305.3,1156.7 L1306.4,1155.0 L1307.4,1153.3 L1308.5,1151.6 L1309.5,1149.9 L1310.5,1148.1 L1311.5,1146.4 L1312.5,1144.7 L1313.5,1143.0 L1314.5,1141.3 L1315.6,1139.6 L1316.6,1137.9 L1317.7,1136.2 L1318.8,1134.5 L1319.8,1132.8 L1320.9,1131.1 L1321.9,1129.4 L1323.0,1127.7 L1324.0,1125.9 L1325.0,1124.2 L1326.0,1122.5 L1327.0,1120.7 L1328.0,1119.0 L1328.9,1117.2 L1329.9,1115.5 L1330.9,1113.7 L1331.8,1112.0 L1332.8,1110.2 L1333.7,1108.5 L1334.7,1106.7 L1335.6,1104.9 L1336.4,1103.1 L1337.2,1101.3 L1338.0,1099.5 L1338.8,1097.6 L1339.6,1095.8 L1340.4,1094.0 L1341.2,1092.1 L1342.1,1090.3 L1343.0,1088.6 L1343.9,1086.8 L1344.8,1085.0 L1345.7,1083.2 L1346.7,1081.5 L1347.6,1079.7 L1348.6,1077.9 L1349.5,1076.2 L1350.5,1074.4 L1351.4,1072.7 L1352.4,1070.9 L1353.5,1069.2 L1354.5,1067.5 L1355.6,1065.9 L1356.8,1064.3 L1358.0,1062.7 L1359.2,1061.1 L1360.4,1059.5 L1361.7,1057.9 L1362.9,1056.3 L1364.1,1054.7 L1365.2,1053.1 L1366.3,1051.4 L1367.4,1049.8 L1368.5,1048.1 L1369.6,1046.4 L1370.7,1044.8 L1371.9,1043.2 L1373.1,1041.6 L1374.4,1040.1 L1375.7,1038.6 L1377.1,1037.2 L1378.5,1035.8 L1379.9,1034.3 L1381.3,1032.9 L1382.7,1031.5 L1384.2,1030.1 L1385.6,1028.7 L1387.0,1027.3 L1388.5,1026.0 L1390.0,1024.6 L1391.5,1023.3 L1393.0,1022.0 L1394.5,1020.7 L1396.1,1019.5 L1397.7,1018.4 L1399.4,1017.4 L1401.1,1016.5 L1402.9,1015.7 L1404.7,1015.1 L1406.6,1014.5 L1408.4,1014.0 L1410.3,1013.7 L1412.2,1013.6 L1414.1,1013.7 L1416.0,1013.9 L1417.9,1014.2 L1419.8,1014.6 L1421.7,1015.0 L1423.5,1015.6 L1425.3,1016.3 L1427.1,1017.1 L1428.8,1018.1 L1430.5,1019.1 L1432.1,1020.2 L1433.7,1021.3 L1435.2,1022.6 L1436.6,1024.0 L1438.0,1025.4 L1439.3,1026.9 L1440.6,1028.3 L1442.0,1029.8 L1443.4,1031.2 L1444.8,1032.6 L1446.2,1034.0 L1447.7,1035.3 L1449.2,1036.7 L1450.7,1038.0 L1452.1,1039.4 L1453.5,1040.8 L1454.8,1042.3 L1456.1,1043.8 L1457.3,1045.4 L1458.6,1046.9 L1459.8,1048.5 L1461.0,1050.1 L1462.3,1051.6 L1463.5,1053.2 L1464.8,1054.8 L1466.1,1056.3 L1467.4,1057.8 L1468.7,1059.3 L1470.0,1060.9 L1471.3,1062.4 L1472.5,1063.9 L1473.8,1065.5 L1475.0,1067.1 L1476.1,1068.7 L1477.3,1070.3 L1478.4,1072.0 L1479.5,1073.7 L1480.6,1075.3 L1481.7,1077.0 L1482.8,1078.6 L1484.0,1080.2 L1485.2,1081.8 L1486.5,1083.4 L1487.8,1084.9 L1489.0,1086.4 L1490.3,1088.0 L1491.6,1089.6 L1492.8,1091.1 L1494.0,1092.7 L1495.2,1094.3 L1496.4,1095.9 L1497.6,1097.5 L1498.9,1099.1 L1500.1,1100.7 L1501.2,1102.3 L1502.4,1103.9 L1503.6,1105.5 L1504.7,1107.2 L1505.9,1108.8 L1507.0,1110.5 L1508.1,1112.2 L1509.1,1113.9 L1510.2,1115.6 L1511.3,1117.2 L1512.3,1118.9 L1513.4,1120.6 L1514.4,1122.3 L1515.5,1124.1 L1516.5,1125.8 L1517.5,1127.5 L1518.5,1129.2 L1519.6,1130.9 L1520.6,1132.7 L1521.6,1134.4 L1522.6,1136.1 L1523.7,1137.8 L1524.7,1139.5 L1525.8,1141.2 L1526.8,1142.9 L1527.9,1144.6 L1528.9,1146.3 L1530.0,1148.0 L1531.0,1149.7 L1532.0,1151.4 L1533.0,1153.2 L1534.0,1154.9 L1534.9,1156.7 L1535.7,1158.5 L1536.6,1160.3 L1537.5,1162.1 L1538.4,1163.9 L1539.3,1165.6 L1540.3,1167.4 L1541.3,1169.1 L1542.3,1170.8 L1543.3,1172.5 L1544.4,1174.3 L1545.4,1176.0 L1546.4,1177.7 L1547.4,1179.5 L1548.3,1181.2 L1549.3,1183.0 L1550.2,1184.7 L1551.2,1186.5 L1552.1,1188.3 L1553.0,1190.1 L1553.9,1191.8 L1554.8,1193.6 L1555.7,1195.4 L1556.6,1197.2 L1557.5,1199.0 L1558.4,1200.8 L1559.3,1202.6 L1560.2,1204.4 L1561.1,1206.2 L1562.0,1208.0 L1562.9,1209.7 L1563.7,1211.5 L1564.6,1213.3 L1565.5,1215.1 L1566.4,1216.9 L1567.3,1218.7 L1568.2,1220.5 L1569.0,1222.3 L1569.9,1224.1 L1570.7,1225.9 L1571.6,1227.7 L1572.4,1229.6 L1573.3,1231.4 L1574.1,1233.2 L1574.9,1235.0 L1575.8,1236.8 L1576.7,1238.6 L1577.5,1240.4 L1578.4,1242.2 L1579.3,1244.0 L1580.1,1245.8 L1580.9,1247.7 L1581.8,1249.5 L1582.6,1251.3 L1583.5,1253.1 L1584.3,1254.9 L1585.2,1256.7 L1586.1,1258.5 L1587.1,1260.2 L1588.0,1262.0 L1589.0,1263.8 L1589.9,1265.5 L1590.8,1267.3 L1591.7,1269.1 L1592.6,1270.9 L1593.4,1272.7 L1594.2,1274.5 L1595.0,1276.4 L1595.7,1278.2 L1596.4,1280.1 L1597.1,1282.0 L1597.8,1283.8 L1598.6,1285.7 L1599.5,1287.5 L1600.3,1289.3 L1601.2,1291.0 L1602.1,1292.8 L1603.1,1294.6 L1603.9,1296.4 L1604.8,1298.2 L1605.6,1300.0 L1606.4,1301.9 L1607.2,1303.7 L1608.0,1305.5 L1608.8,1307.4 L1609.6,1309.2 L1610.4,1311.0 L1611.3,1312.8 L1612.1,1314.6 L1613.0,1316.4 L1613.8,1318.2 L1614.7,1320.0 L1615.5,1321.9 L1616.4,1323.7 L1617.3,1325.5 L1618.2,1327.2 L1619.2,1329.0 L1620.2,1330.7 L1621.2,1332.4 L1622.2,1334.1 L1623.2,1335.8 L1624.3,1337.6 L1625.3,1339.3 L1626.2,1341.0 L1627.2,1342.8 L1628.1,1344.6 L1628.9,1346.4 L1629.8,1348.2 L1630.7,1350.0 L1631.6,1351.7 L1632.6,1353.5 L1633.6,1355.2 L1634.7,1356.9 L1635.8,1358.5 L1636.9,1360.2 L1638.1,1361.8 L1639.2,1363.4 L1640.4,1365.1 L1641.6,1366.7 L1642.7,1368.3 L1643.8,1370.0 L1645.0,1371.6 L1646.1,1373.3 L1647.2,1374.9 L1648.3,1376.6 L1649.5,1378.2 L1650.6,1379.9 L1651.8,1381.5 L1653.0,1383.1 L1654.2,1384.7 L1655.3,1386.3 L1656.5,1387.9 L1657.7,1389.5 L1659.0,1391.1 L1660.2,1392.7 L1661.4,1394.3 L1662.6,1395.9 L1663.8,1397.5 L1665.1,1399.0 L1666.4,1400.6 L1667.7,1402.1 L1669.0,1403.6 L1670.3,1405.0 L1671.7,1406.5 L1673.2,1407.9 L1674.6,1409.2 L1676.1,1410.6 L1677.6,1411.9 L1679.1,1413.2 L1680.6,1414.5 L1682.1,1415.9 L1683.6,1417.2 L1685.1,1418.5 L1686.6,1419.8 L1688.1,1421.2 L1689.6,1422.5 L1691.1,1423.8 L1692.6,1425.1 L1694.2,1426.3 L1695.8,1427.4 L1697.5,1428.5 L1699.2,1429.5 L1700.9,1430.4 L1702.7,1431.4 L1704.5,1432.3 L1706.2,1433.2 L1708.0,1434.1 L1709.8,1434.9 L1711.7,1435.6 L1713.5,1436.3 L1715.4,1437.0 L1717.2,1437.8 L1719.1,1438.5 L1720.9,1439.3 L1722.7,1440.1 L1724.6,1440.9 L1726.4,1441.6 L1728.3,1442.3 L1730.2,1443.0 L1732.1,1443.6 L1734.0,1444.2 L1735.9,1444.8 L1737.8,1445.4 L1739.7,1446.0 L1741.6,1446.5 L1743.6,1447.1 L1745.5,1447.6 L1747.4,1448.1 L1749.4,1448.5 L1751.3,1448.8 L1753.3,1449.2 L1755.3,1449.4 L1757.3,1449.6 L1759.3,1449.9 L1761.2,1450.1 L1763.2,1450.3 L1765.2,1450.5 L1767.2,1450.7 L1769.2,1450.9 L1771.2,1451.1 L1773.2,1451.3 L1775.2,1451.5 L1777.2,1451.7 L1779.2,1451.8 L1781.2,1452.0 L1783.2,1452.2 L1785.1,1452.4 L1787.1,1452.6 L1789.1,1452.8 L1791.1,1453.0 L1793.1,1453.2 L1795.1,1453.3 L1797.1,1453.5 L1799.1,1453.6 L1801.1,1453.7 L1803.1,1453.7 L1805.1,1453.8 L1807.1,1453.8 L1809.1,1453.8 L1811.1,1453.8 L1813.1,1453.8 L1815.1,1453.8 L1817.1,1453.8 L1819.1,1453.8 L1821.1,1453.8 L1823.1,1453.8 L1825.1,1453.8 L1827.1,1453.8 L1829.1,1453.8 L1831.1,1453.8 L1833.1,1453.8 L1835.1,1453.8 L1837.1,1453.8 L1839.1,1453.8 L1841.1,1453.8 L1843.1,1453.9 L1845.1,1453.9 L1847.0,1454.0 L1848.9,1454.1 L1850.8,1454.2 L1852.7,1454.2 L1854.6,1454.2 L1856.6,1454.1 L1858.5,1454.1 L1860.5,1454.0 L1862.4,1454.0 L1864.4,1454.0 L1866.4,1454.1 L1868.4,1454.1 L1870.4,1454.1 L1872.4,1454.2 L1874.4,1454.3 L1876.4,1454.4 L1878.4,1454.6 L1880.4,1454.8 L1882.3,1455.0 L1884.3,1455.3 L1886.3,1455.6 L1888.3,1455.8 L1890.3,1456.0 L1892.2,1456.1 L1894.2,1456.2 L1896.2,1456.3 L1898.2,1456.3 L1900.2,1456.3 L1902.2,1456.3 L1904.2,1456.3 L1906.2,1456.3 L1908.2,1456.3 L1910.2,1456.3 L1912.2,1456.3 L1914.2,1456.3 L1916.2,1456.3 L1918.2,1456.3 L1920.2,1456.3 L1922.2,1456.3 L1924.2,1456.3 L1926.2,1456.3 L1928.2,1456.3 L1930.2,1456.3 L1932.2,1456.3 L1934.2,1456.3 L1936.2,1456.3 L1938.2,1456.3 L1940.2,1456.3 L1942.2,1456.3 L1944.2,1456.3 L1946.2,1456.3 L1948.2,1456.3 L1950.2,1456.3 L1952.2,1456.3 L1954.2,1456.3 L1956.3,1456.3 L1958.3,1456.3 L1960.3,1456.3 L1962.3,1456.3 L1964.3,1456.3 L1966.3,1456.3 L1968.3,1456.3 L1970.3,1456.3 L1972.3,1456.3 L1974.3,1456.3 L1976.3,1456.3 L1978.2,1456.2 L1980.2,1456.2 L1982.2,1456.0 L1984.2,1455.9 L1986.1,1455.6 L1988.1,1455.4 L1990.1,1455.2 L1992.0,1455.0 L1994.0,1454.9 L1996.0,1454.9 L1998.0,1454.8 L2000.0,1454.8 L2000.0,1454.8 L2214.0,1454.8" fill="none" stroke="#ff0000" stroke-width="3.2" stroke-linejoin="round" stroke-linecap="round"/>
<path d="M307.9,1328.8 L311.5,1326.3 L316.9,1331.8 L321.8,1319.1 L326.6,1334.2 L331.4,1319.1 L335.7,1341.5 L339.9,1326.9 L344.7,1325.1 L350.2,1333.6 L355.6,1326.3 L360.5,1319.1 L365.9,1319.1 L368.9,1310.0 L373.8,1336.6 L378.6,1313.6 L383.4,1313.0 L388.3,1299.7 L394.3,1317.9 L398.0,1299.7 L402.2,1330.0 L406.4,1320.9 L413.1,1323.9 L417.3,1299.7 L422.1,1303.4 L427.0,1303.4 L431.2,1317.9 L436.7,1293.1 L440.3,1295.5 L445.1,1323.3 L448.8,1297.3 L453.6,1278.0 L460.0,1285.2 L465.4,1294.9 L469.0,1285.8 L474.5,1280.4 L479.0,1264.0 L483.5,1283.1 L489.0,1261.3 L494.4,1266.8 L498.0,1261.3 L501.7,1239.6 L508.0,1241.4 L512.5,1221.4 L518.0,1218.7 L521.6,1226.0 L525.2,1210.6 L530.7,1203.3 L538.8,1194.2 L541.5,1179.7 L545.2,1164.3 L553.3,1150.7 L557.9,1134.4 L561.5,1119.9 L566.9,1096.3 L567.8,1080.0 L577.7,1021.8 L581.6,983.1 L586.4,944.4 L591.3,905.7 L595.1,867.0 L598.0,828.4 L600.0,789.7 L600.9,780.0 L602.7,735.7 L603.6,663.2 L604.5,590.7 L606.8,465.7 L607.2,436.7 L609.0,425.8 L614.5,404.1 L619.0,378.7 L621.6,356.5 L623.3,349.9 L625.2,343.2 L627.2,338.5 L631.2,335.2 L633.9,339.9 L635.9,347.9 L637.2,356.5 L637.5,369.8 L638.2,386.4 L638.5,400.0 L640.7,465.7 L643.5,536.3 L645.3,572.5 L648.0,626.9 L652.5,663.2 L658.0,699.5 L664.3,733.0 L668.8,732.1 L671.6,744.8 L673.9,764.7 L677.9,744.8 L681.5,726.7 L685.2,681.3 L688.8,645.1 L692.4,617.9 L696.0,590.7 L699.7,568.9 L703.3,541.7 L706.9,521.8 L714.2,501.8 L719.6,510.9 L723.2,530.8 L726.9,554.4 L730.5,581.6 L734.1,612.4 L737.8,645.1 L738.0,647.0 L738.1,649.0 L738.3,651.0 L738.5,653.0 L738.7,655.0 L738.9,657.0 L739.1,659.0 L739.3,661.0 L739.5,663.0 L739.7,665.0 L739.9,667.0 L740.1,668.9 L740.3,670.9 L740.5,672.9 L740.7,674.9 L740.9,676.9 L741.1,678.9 L741.3,680.9 L741.5,682.9 L741.6,684.9 L741.8,686.9 L742.0,688.9 L742.1,690.9 L742.3,692.8 L742.5,694.8 L742.6,696.8 L742.8,698.8 L742.9,700.8 L743.1,702.8 L743.3,704.8 L743.4,706.8 L743.6,708.8 L743.7,710.8 L743.9,712.8 L744.1,714.8 L744.2,716.8 L744.4,718.8 L744.5,720.8 L744.7,722.8 L744.9,724.7 L745.0,726.7 L745.2,728.7 L745.3,730.7 L745.5,732.7 L745.6,734.7 L745.8,736.7 L746.0,738.7 L746.1,740.7 L746.3,742.7 L746.4,744.7 L746.6,746.7 L746.8,748.7 L746.9,750.7 L747.1,752.7 L747.2,754.7 L747.4,756.6 L747.6,758.6 L747.7,760.6 L747.9,762.6 L748.0,764.6 L748.2,766.6 L748.4,768.6 L748.5,770.6 L748.6,772.6 L748.8,774.6 L748.9,776.6 L749.1,778.6 L749.2,780.6 L749.3,782.6 L749.4,784.6 L749.6,786.6 L749.7,788.6 L749.8,790.6 L750.0,792.6 L750.1,794.6 L750.3,796.6 L750.4,798.5 L750.6,800.5 L750.8,802.5 L751.0,804.5 L751.2,806.5 L751.4,808.5 L751.6,810.5 L751.8,812.5 L752.0,814.5 L752.2,816.5 L752.4,818.4 L752.6,820.4 L752.7,822.4 L752.9,824.4 L753.1,826.4 L753.2,828.4 L753.4,830.4 L753.5,832.4 L753.7,834.4 L753.9,836.4 L754.0,838.4 L754.2,840.4 L754.3,842.4 L754.5,844.4 L754.7,846.4 L754.8,848.3 L755.0,850.3 L755.1,852.3 L755.3,854.3 L755.5,856.3 L755.6,858.3 L755.8,860.3 L755.9,862.3 L756.1,864.3 L756.3,866.3 L756.4,868.3 L756.6,870.3 L756.7,872.3 L756.9,874.3 L757.1,876.3 L757.2,878.3 L757.4,880.3 L757.5,882.2 L757.7,884.2 L757.9,886.2 L758.0,888.2 L758.2,890.2 L758.3,892.2 L758.5,894.2 L758.7,896.2 L758.8,898.2 L759.0,900.2 L759.1,902.2 L759.3,904.2 L759.5,906.2 L759.7,908.2 L759.8,910.2 L760.0,912.1 L760.2,914.1 L760.4,916.1 L760.6,918.1 L760.8,920.1 L761.0,922.1 L761.2,924.1 L761.4,926.1 L761.6,928.1 L761.8,930.1 L762.0,932.0 L762.2,934.0 L762.4,936.0 L762.6,938.0 L762.8,940.0 L763.0,942.0 L763.2,944.0 L763.4,946.0 L763.6,948.0 L763.8,950.0 L764.0,951.9 L764.2,953.9 L764.4,955.9 L764.6,957.9 L764.8,959.9 L765.0,961.9 L765.2,963.9 L765.4,965.9 L765.6,967.9 L765.8,969.9 L766.0,971.9 L766.2,973.8 L766.4,975.8 L766.6,977.8 L766.8,979.8 L767.0,981.8 L767.2,983.8 L767.4,985.8 L767.6,987.8 L767.8,989.8 L768.0,991.8 L768.2,993.7 L768.4,995.7 L768.6,997.7 L768.8,999.7 L769.0,1001.7 L769.2,1003.7 L769.4,1005.7 L769.6,1007.7 L769.8,1009.7 L770.0,1011.7 L770.2,1013.6 L770.5,1015.6 L770.7,1017.6 L771.0,1019.6 L771.2,1021.6 L771.4,1023.6 L771.6,1025.6 L771.9,1027.5 L772.1,1029.5 L772.3,1031.5 L772.5,1033.5 L772.7,1035.5 L772.9,1037.5 L773.1,1039.5 L773.3,1041.5 L773.5,1043.5 L773.7,1045.5 L773.9,1047.4 L774.1,1049.4 L774.3,1051.4 L774.5,1053.4 L774.7,1055.4 L774.9,1057.4 L775.1,1059.4 L775.3,1061.4 L775.5,1063.4 L775.7,1065.4 L775.9,1067.4 L776.1,1069.3 L776.3,1071.3 L776.5,1073.3 L776.7,1075.3 L776.9,1077.3 L777.1,1079.3 L777.3,1081.3 L777.5,1083.3 L777.7,1085.3 L777.9,1087.3 L778.1,1089.2 L778.3,1091.2 L778.5,1093.2 L778.7,1095.2 L778.9,1097.2 L779.1,1099.2 L779.4,1101.2 L779.6,1103.2 L779.9,1105.1 L780.1,1107.1 L780.4,1109.1 L780.7,1111.1 L781.0,1113.1 L781.3,1115.0 L781.6,1117.0 L781.9,1119.0 L782.2,1121.0 L782.5,1122.9 L782.8,1124.9 L783.1,1126.9 L783.3,1128.9 L783.6,1130.9 L783.9,1132.8 L784.1,1134.8 L784.4,1136.8 L784.7,1138.8 L784.9,1140.8 L785.2,1142.8 L785.4,1144.7 L785.7,1146.7 L786.0,1148.7 L786.2,1150.7 L786.5,1152.7 L786.8,1154.7 L787.0,1156.6 L787.3,1158.6 L787.6,1160.6 L787.8,1162.6 L788.1,1164.6 L788.4,1166.6 L788.6,1168.5 L788.9,1170.5 L789.2,1172.5 L789.4,1174.5 L789.7,1176.5 L789.9,1178.5 L790.2,1180.4 L790.4,1182.4 L790.7,1184.4 L790.9,1186.4 L791.1,1188.4 L791.4,1190.4 L791.6,1192.4 L791.8,1194.3 L792.0,1196.3 L792.2,1198.3 L792.4,1200.3 L792.6,1202.3 L792.8,1204.3 L793.0,1206.3 L793.2,1208.3 L793.5,1210.3 L793.7,1212.2 L794.0,1214.2 L794.3,1216.2 L794.6,1218.2 L794.9,1220.2 L795.2,1222.1 L795.5,1224.1 L795.8,1226.1 L796.2,1228.1 L796.5,1230.0 L796.8,1232.0 L797.1,1234.0 L797.4,1236.0 L797.7,1237.9 L798.0,1239.9 L798.3,1241.8 L798.5,1243.8 L798.8,1245.6 L799.1,1247.2 L799.5,1248.7 L799.8,1250.0 L800.2,1251.2 L800.6,1252.4 L801.0,1253.7 L801.3,1255.2 L801.6,1256.8 L802.0,1258.7 L802.3,1260.6 L802.6,1262.5 L802.9,1264.5 L803.3,1266.4 L803.6,1268.4 L804.0,1270.4 L804.4,1272.3 L804.8,1274.3 L805.2,1276.2 L805.6,1278.2 L806.0,1280.2 L806.4,1282.1 L806.8,1284.1 L807.2,1286.0 L807.6,1288.0 L807.9,1290.0 L808.3,1291.9 L808.7,1293.9 L809.1,1295.9 L809.5,1297.8 L809.9,1299.8 L810.3,1301.7 L810.7,1303.7 L811.1,1305.7 L811.5,1307.6 L812.0,1309.6 L812.4,1311.5 L812.9,1313.4 L813.4,1315.4 L813.9,1317.3 L814.4,1319.3 L814.9,1321.2 L815.4,1323.1 L815.9,1325.1 L816.4,1327.0 L816.9,1328.9 L817.5,1330.8 L818.1,1332.7 L818.8,1334.6 L819.5,1336.5 L820.1,1338.4 L820.8,1340.3 L821.5,1342.1 L822.2,1344.0 L822.9,1345.9 L823.6,1347.8 L824.3,1349.6 L825.0,1351.5 L825.9,1353.3 L826.7,1355.1 L827.6,1356.9 L828.5,1358.6 L829.5,1360.4 L830.5,1362.1 L831.5,1363.9 L832.4,1365.6 L833.4,1367.4 L834.4,1369.1 L835.4,1370.8 L836.3,1372.6 L837.2,1374.4 L838.1,1376.1 L839.1,1377.9 L840.1,1379.6 L841.1,1381.2 L842.3,1382.8 L843.5,1384.3 L844.8,1385.8 L846.2,1387.3 L847.5,1388.8 L848.9,1390.2 L850.2,1391.7 L851.6,1393.2 L852.9,1394.6 L854.3,1396.1 L855.7,1397.6 L857.0,1399.0 L858.4,1400.5 L859.8,1401.9 L861.2,1403.4 L862.6,1404.8 L864.0,1406.1 L865.5,1407.4 L867.1,1408.6 L868.7,1409.7 L870.4,1410.7 L872.2,1411.6 L874.0,1412.3 L875.8,1412.8 L877.7,1413.1 L879.6,1413.3 L881.5,1413.1 L883.3,1412.8 L885.2,1412.2 L886.9,1411.5 L888.7,1410.5 L890.3,1409.5 L891.9,1408.4 L893.5,1407.1 L895.0,1405.8 L896.5,1404.5 L897.9,1403.1 L899.3,1401.8 L900.8,1400.6 L902.4,1399.5 L904.0,1398.6 L905.7,1397.9 L907.5,1397.5 L909.3,1397.4 L911.1,1397.6 L912.9,1398.1 L914.6,1398.8 L916.2,1399.8 L917.7,1400.9 L919.3,1402.1 L920.8,1403.4 L922.3,1404.7 L923.9,1405.9 L925.5,1407.1 L927.1,1408.2 L928.8,1409.3 L930.5,1410.3 L932.3,1411.3 L934.0,1412.2 L935.8,1413.1 L937.6,1413.9 L939.4,1414.8 L941.1,1415.7 L942.7,1416.8 L944.2,1417.9 L945.5,1419.2 L946.8,1420.5 L947.9,1421.8 L949.0,1422.8 L950.0,1423.5 L951.1,1423.8 L952.3,1423.7 L953.5,1423.3 L954.9,1422.8 L956.4,1422.3 L958.0,1421.9 L959.6,1421.5 L961.4,1421.1 L963.1,1420.5 L964.9,1419.8 L966.6,1419.0 L968.2,1417.9 L969.8,1416.8 L971.2,1415.5 L972.6,1414.1 L973.9,1412.7 L975.3,1411.4 L976.6,1410.1 L978.1,1409.1 L979.7,1408.3 L981.3,1407.8 L983.1,1407.6 L984.8,1407.8 L986.6,1408.2 L988.3,1409.0 L989.8,1410.0 L991.3,1411.2 L992.8,1412.5 L994.2,1413.9 L995.5,1415.4 L996.2,1416.1 L1002.5,1422.4 L1012.4,1426.5 L1022.4,1427.0 L1028.7,1425.2 L1036.9,1422.4 L1045.9,1417.0 L1054.9,1412.9 L1061.3,1410.7 L1065.8,1414.3 L1069.4,1408.0 L1077.5,1403.0 L1084.8,1397.1 L1089.3,1392.6 L1093.8,1390.8 L1100.1,1384.9 L1101.6,1383.5 L1103.1,1382.2 L1104.5,1380.8 L1106.0,1379.4 L1107.4,1378.1 L1108.9,1376.7 L1110.4,1375.4 L1111.9,1374.0 L1113.4,1372.7 L1114.8,1371.3 L1116.3,1370.0 L1117.7,1368.6 L1119.1,1367.1 L1120.4,1365.7 L1121.8,1364.2 L1123.1,1362.7 L1124.4,1361.2 L1125.7,1359.7 L1127.0,1358.2 L1128.3,1356.6 L1129.5,1355.0 L1130.7,1353.4 L1131.9,1351.8 L1133.0,1350.2 L1134.1,1348.5 L1135.2,1346.8 L1136.3,1345.2 L1137.4,1343.5 L1138.6,1341.9 L1139.8,1340.3 L1141.0,1338.7 L1142.2,1337.1 L1143.4,1335.5 L1144.7,1334.0 L1145.9,1332.4 L1147.2,1330.9 L1148.5,1329.4 L1149.8,1327.9 L1151.2,1326.4 L1152.5,1324.9 L1153.7,1323.3 L1154.9,1321.8 L1156.1,1320.2 L1157.3,1318.5 L1158.4,1316.9 L1159.5,1315.2 L1160.7,1313.6 L1161.8,1311.9 L1162.8,1310.2 L1163.9,1308.6 L1165.0,1306.9 L1166.0,1305.2 L1167.1,1303.5 L1168.2,1301.8 L1169.3,1300.1 L1170.4,1298.5 L1171.5,1296.8 L1172.6,1295.1 L1173.7,1293.4 L1174.7,1291.8 L1175.8,1290.0 L1176.8,1288.3 L1177.8,1286.6 L1178.8,1284.9 L1179.8,1283.1 L1180.7,1281.4 L1181.7,1279.6 L1182.6,1277.8 L1183.5,1276.1 L1184.4,1274.3 L1185.3,1272.5 L1186.1,1270.7 L1187.0,1268.9 L1187.9,1267.1 L1188.8,1265.3 L1189.7,1263.5 L1190.6,1261.7 L1191.4,1259.9 L1192.2,1258.1 L1192.9,1256.3 L1193.6,1254.4 L1194.4,1252.5 L1195.1,1250.7 L1195.8,1248.8 L1196.6,1247.0 L1197.4,1245.2 L1198.3,1243.3 L1199.1,1241.5 L1200.0,1239.7 L1200.8,1237.9 L1201.7,1236.1 L1202.6,1234.3 L1203.4,1232.5 L1204.3,1230.7 L1205.2,1228.9 L1206.1,1227.1 L1206.9,1225.3 L1207.8,1223.5 L1208.7,1221.7 L1209.6,1219.9 L1210.5,1218.2 L1211.4,1216.4 L1212.3,1214.6 L1213.2,1212.8 L1214.0,1211.0 L1214.9,1209.2 L1215.7,1207.3 L1216.5,1205.5 L1217.4,1203.7 L1218.2,1201.9 L1219.0,1200.0 L1219.8,1198.2 L1220.6,1196.4 L1221.4,1194.6 L1222.2,1192.7 L1223.1,1190.9 L1223.9,1189.1 L1224.7,1187.2 L1225.5,1185.4 L1226.3,1183.6 L1227.1,1181.8 L1227.9,1179.9 L1228.7,1178.1 L1229.6,1176.3 L1230.4,1174.4 L1231.2,1172.6 L1232.0,1170.8 L1232.8,1168.9 L1233.6,1167.1 L1234.3,1165.3 L1235.1,1163.4 L1235.8,1161.6 L1236.6,1159.7 L1237.3,1157.9 L1238.1,1156.0 L1238.8,1154.1 L1239.6,1152.3 L1240.3,1150.4 L1241.1,1148.6 L1241.8,1146.7 L1242.5,1144.9 L1243.3,1143.0 L1244.0,1141.1 L1244.8,1139.3 L1245.5,1137.4 L1246.3,1135.6 L1247.0,1133.7 L1247.7,1131.8 L1248.5,1130.0 L1249.2,1128.1 L1250.0,1126.3 L1250.7,1124.4 L1251.5,1122.6 L1252.2,1120.7 L1252.9,1118.8 L1253.7,1117.0 L1254.4,1115.1 L1255.2,1113.3 L1255.9,1111.4 L1256.7,1109.6 L1257.4,1107.7 L1258.1,1105.8 L1258.9,1104.0 L1259.6,1102.1 L1260.4,1100.3 L1261.1,1098.4 L1261.8,1096.5 L1262.5,1094.7 L1263.2,1092.8 L1263.9,1090.9 L1264.5,1089.0 L1265.1,1087.1 L1265.8,1085.2 L1266.4,1083.3 L1267.1,1081.4 L1267.7,1079.5 L1268.3,1077.6 L1269.0,1075.7 L1269.6,1073.8 L1270.3,1072.0 L1271.0,1070.1 L1271.7,1068.2 L1272.4,1066.3 L1273.1,1064.4 L1273.8,1062.6 L1274.5,1060.7 L1275.2,1058.8 L1275.9,1057.0 L1276.6,1055.1 L1277.3,1053.2 L1278.0,1051.3 L1278.7,1049.5 L1279.4,1047.6 L1280.1,1045.7 L1280.8,1043.8 L1281.5,1042.0 L1282.2,1040.1 L1282.9,1038.2 L1283.6,1036.3 L1284.2,1034.5 L1284.9,1032.6 L1285.6,1030.7 L1286.2,1028.8 L1286.8,1026.9 L1287.5,1025.0 L1288.1,1023.1 L1288.7,1021.2 L1289.4,1019.3 L1290.0,1017.4 L1290.6,1015.5 L1291.3,1013.6 L1291.9,1011.7 L1292.6,1009.8 L1293.2,1007.9 L1293.8,1006.0 L1294.5,1004.1 L1295.1,1002.2 L1295.8,1000.3 L1296.4,998.5 L1297.1,996.6 L1297.7,994.7 L1298.4,992.8 L1299.1,990.9 L1299.8,989.0 L1300.5,987.2 L1301.2,985.3 L1302.0,983.5 L1302.8,981.6 L1303.5,979.8 L1304.3,977.9 L1305.0,976.1 L1305.7,974.2 L1306.4,972.3 L1307.0,970.4 L1307.7,968.5 L1308.3,966.6 L1308.8,964.7 L1309.4,962.8 L1309.9,960.9 L1310.5,958.9 L1311.1,957.0 L1311.6,955.1 L1312.2,953.2 L1312.8,951.3 L1313.5,949.4 L1314.1,947.5 L1314.8,945.6 L1315.5,943.7 L1316.2,941.9 L1316.9,940.0 L1317.6,938.1 L1318.4,936.3 L1319.1,934.4 L1319.9,932.6 L1320.7,930.7 L1321.5,928.9 L1322.3,927.1 L1323.1,925.2 L1323.8,923.4 L1324.6,921.5 L1325.4,919.7 L1326.2,917.9 L1326.9,916.0 L1327.7,914.1 L1328.4,912.3 L1329.1,910.4 L1329.8,908.6 L1330.6,906.7 L1331.3,904.8 L1332.0,902.9 L1332.6,901.1 L1333.3,899.2 L1334.0,897.3 L1334.6,895.4 L1335.3,893.5 L1336.0,891.7 L1336.7,889.8 L1337.5,887.9 L1338.3,886.1 L1339.1,884.3 L1340.0,882.5 L1340.8,880.7 L1341.7,878.9 L1342.5,877.1 L1343.4,875.2 L1344.2,873.4 L1345.0,871.6 L1345.8,869.8 L1346.6,867.9 L1347.5,866.1 L1348.3,864.3 L1349.1,862.5 L1349.9,860.6 L1350.8,858.8 L1351.6,857.0 L1352.5,855.2 L1353.3,853.4 L1354.1,851.6 L1354.9,849.8 L1355.6,847.9 L1356.3,846.0 L1357.0,844.2 L1357.6,842.3 L1358.3,840.5 L1359.1,838.8 L1360.0,837.2 L1361.0,835.7 L1362.2,834.3 L1363.4,832.9 L1364.5,831.5 L1365.5,829.9 L1366.4,828.2 L1367.2,826.4 L1367.9,824.6 L1368.5,822.8 L1369.2,820.9 L1369.9,819.0 L1370.7,817.2 L1371.5,815.4 L1372.5,813.6 L1373.4,811.9 L1374.4,810.2 L1375.4,808.4 L1376.4,806.7 L1377.4,805.0 L1378.4,803.2 L1379.4,801.5 L1380.3,799.7 L1381.3,798.0 L1382.2,796.2 L1383.2,794.4 L1384.1,792.7 L1385.0,790.9 L1386.0,789.2 L1387.0,787.4 L1388.0,785.7 L1389.1,784.0 L1390.2,782.3 L1391.3,780.7 L1392.5,779.1 L1393.7,777.5 L1394.9,776.0 L1396.2,774.5 L1397.6,773.0 L1399.0,771.6 L1400.5,770.3 L1402.0,769.1 L1403.6,767.9 L1405.1,766.8 L1406.7,765.6 L1408.1,764.4 L1409.6,763.2 L1411.0,761.9 L1412.4,760.7 L1414.0,759.6 L1415.6,758.6 L1417.3,757.7 L1419.1,757.0 L1421.0,756.3 L1422.9,755.8 L1424.8,755.3 L1426.7,755.0 L1428.6,754.8 L1430.5,754.8 L1432.5,755.0 L1434.4,755.3 L1436.3,755.6 L1438.2,756.1 L1440.2,756.6 L1442.1,757.2 L1443.9,757.7 L1445.7,758.4 L1447.5,759.2 L1449.2,760.2 L1450.8,761.2 L1452.4,762.4 L1454.0,763.6 L1455.5,764.9 L1457.1,766.2 L1458.6,767.5 L1460.1,768.8 L1461.5,770.2 L1462.9,771.6 L1464.3,773.0 L1465.7,774.5 L1467.0,776.0 L1468.3,777.5 L1469.6,779.0 L1470.9,780.5 L1472.2,782.0 L1473.5,783.6 L1474.8,785.1 L1476.0,786.6 L1477.3,788.2 L1478.5,789.8 L1479.8,791.4 L1480.9,793.0 L1482.1,794.6 L1483.2,796.3 L1484.3,797.9 L1485.4,799.6 L1486.5,801.3 L1487.5,803.0 L1488.6,804.7 L1489.7,806.4 L1490.7,808.1 L1491.8,809.8 L1492.9,811.5 L1493.9,813.2 L1494.9,814.9 L1496.0,816.6 L1497.0,818.3 L1497.9,820.1 L1498.8,821.8 L1499.7,823.6 L1500.6,825.4 L1501.4,827.3 L1502.2,829.1 L1503.0,830.9 L1503.8,832.7 L1504.7,834.6 L1505.5,836.4 L1506.3,838.2 L1507.1,840.0 L1507.9,841.9 L1508.7,843.7 L1509.5,845.5 L1510.3,847.4 L1511.1,849.2 L1511.9,851.0 L1512.7,852.9 L1513.4,854.7 L1514.1,856.6 L1514.9,858.5 L1515.6,860.3 L1516.4,862.2 L1517.1,864.0 L1517.9,865.9 L1518.6,867.7 L1519.4,869.6 L1520.1,871.4 L1520.8,873.3 L1521.6,875.2 L1522.3,877.0 L1523.0,878.9 L1523.7,880.8 L1524.4,882.7 L1525.1,884.5 L1525.8,886.4 L1526.5,888.3 L1527.2,890.2 L1527.9,892.0 L1528.6,893.9 L1529.3,895.8 L1530.0,897.7 L1530.6,899.6 L1531.3,901.4 L1531.9,903.3 L1532.5,905.3 L1533.1,907.2 L1533.7,909.1 L1534.3,911.0 L1535.0,912.8 L1535.7,914.7 L1536.4,916.5 L1537.2,918.3 L1538.0,920.1 L1538.9,921.9 L1539.7,923.6 L1540.4,925.5 L1541.1,927.3 L1541.7,929.2 L1542.2,931.1 L1542.8,933.0 L1543.3,935.0 L1543.8,936.9 L1544.3,938.8 L1544.8,940.7 L1545.4,942.7 L1545.9,944.6 L1546.4,946.5 L1546.9,948.5 L1547.4,950.4 L1547.9,952.3 L1548.5,954.3 L1549.0,956.2 L1549.5,958.1 L1550.0,960.1 L1550.5,962.0 L1551.0,963.9 L1551.5,965.9 L1552.1,967.8 L1552.6,969.7 L1553.1,971.7 L1553.6,973.6 L1554.1,975.5 L1554.6,977.5 L1555.2,979.4 L1555.7,981.3 L1556.2,983.3 L1556.7,985.2 L1557.2,987.1 L1557.7,989.1 L1558.2,991.0 L1558.8,992.9 L1559.3,994.9 L1559.8,996.8 L1560.3,998.7 L1560.8,1000.7 L1561.3,1002.6 L1561.9,1004.5 L1562.4,1006.5 L1562.9,1008.4 L1563.4,1010.3 L1563.9,1012.3 L1564.4,1014.2 L1564.9,1016.1 L1565.5,1018.1 L1566.0,1020.0 L1566.5,1021.9 L1567.0,1023.9 L1567.5,1025.8 L1568.0,1027.7 L1568.6,1029.7 L1569.1,1031.6 L1569.6,1033.5 L1570.1,1035.5 L1570.6,1037.4 L1571.1,1039.3 L1571.6,1041.3 L1572.2,1043.2 L1572.7,1045.1 L1573.2,1047.1 L1573.7,1049.0 L1574.2,1050.9 L1574.7,1052.9 L1575.3,1054.8 L1575.8,1056.7 L1576.3,1058.7 L1576.8,1060.6 L1577.3,1062.5 L1577.8,1064.5 L1578.4,1066.4 L1578.9,1068.3 L1579.4,1070.3 L1579.9,1072.2 L1580.4,1074.1 L1580.9,1076.1 L1581.4,1078.0 L1582.0,1079.9 L1582.5,1081.9 L1583.0,1083.8 L1583.5,1085.7 L1584.0,1087.7 L1584.5,1089.6 L1585.1,1091.5 L1585.6,1093.5 L1586.1,1095.4 L1586.6,1097.3 L1587.1,1099.3 L1587.7,1101.2 L1588.2,1103.1 L1588.8,1105.0 L1589.3,1106.9 L1589.9,1108.9 L1590.5,1110.8 L1591.1,1112.7 L1591.6,1114.6 L1592.2,1116.5 L1592.8,1118.4 L1593.4,1120.3 L1594.0,1122.3 L1594.6,1124.2 L1595.2,1126.1 L1595.8,1128.0 L1596.3,1129.9 L1596.9,1131.8 L1597.5,1133.7 L1598.1,1135.6 L1598.6,1137.6 L1599.2,1139.5 L1599.8,1141.4 L1600.3,1143.3 L1600.9,1145.3 L1601.4,1147.2 L1602.0,1149.1 L1602.5,1151.0 L1603.1,1153.0 L1603.6,1154.9 L1604.2,1156.8 L1604.7,1158.7 L1605.3,1160.6 L1605.8,1162.6 L1606.4,1164.5 L1606.9,1166.4 L1607.5,1168.3 L1608.0,1170.2 L1608.6,1172.2 L1609.2,1174.1 L1609.8,1176.0 L1610.4,1177.9 L1611.0,1179.8 L1611.5,1181.7 L1612.1,1183.6 L1612.7,1185.6 L1613.3,1187.5 L1613.9,1189.4 L1614.5,1191.3 L1615.1,1193.2 L1615.7,1195.1 L1616.2,1197.0 L1616.8,1199.0 L1617.3,1200.9 L1617.9,1202.8 L1618.4,1204.7 L1618.9,1206.7 L1619.4,1208.6 L1619.9,1210.6 L1620.3,1212.5 L1620.8,1214.4 L1621.3,1216.4 L1621.8,1218.3 L1622.3,1220.3 L1622.8,1222.2 L1623.2,1224.1 L1623.7,1226.1 L1624.2,1228.0 L1624.7,1230.0 L1625.1,1231.9 L1625.6,1233.9 L1626.1,1235.8 L1626.5,1237.8 L1627.0,1239.7 L1627.5,1241.6 L1628.0,1243.6 L1628.4,1245.5 L1628.9,1247.5 L1629.5,1249.4 L1630.0,1251.3 L1630.6,1253.2 L1631.1,1255.2 L1631.7,1257.1 L1632.3,1259.0 L1632.9,1260.9 L1633.5,1262.8 L1634.0,1264.7 L1634.7,1266.6 L1635.3,1268.5 L1635.9,1270.4 L1636.5,1272.3 L1637.2,1274.2 L1637.8,1276.1 L1638.5,1278.0 L1639.1,1279.9 L1639.8,1281.8 L1640.5,1283.7 L1641.2,1285.5 L1641.9,1287.4 L1642.5,1289.3 L1643.2,1291.2 L1643.9,1293.1 L1644.6,1294.9 L1645.3,1296.8 L1646.0,1298.7 L1646.7,1300.6 L1647.4,1302.4 L1648.1,1304.3 L1648.8,1306.2 L1649.5,1308.1 L1650.2,1309.9 L1650.9,1311.8 L1651.6,1313.7 L1652.3,1315.5 L1653.0,1317.4 L1653.7,1319.3 L1654.3,1321.2 L1655.0,1323.1 L1655.6,1325.0 L1656.3,1326.9 L1656.9,1328.8 L1657.6,1330.6 L1658.3,1332.5 L1659.0,1334.4 L1659.7,1336.2 L1660.5,1338.1 L1661.2,1340.0 L1662.0,1341.8 L1662.8,1343.6 L1663.6,1345.5 L1664.4,1347.3 L1665.3,1349.1 L1666.1,1350.9 L1667.0,1352.7 L1667.9,1354.5 L1668.8,1356.3 L1669.8,1358.0 L1670.7,1359.8 L1671.7,1361.6 L1672.6,1363.3 L1673.5,1365.1 L1674.4,1366.9 L1675.3,1368.7 L1676.3,1370.4 L1677.2,1372.2 L1678.1,1374.0 L1679.0,1375.8 L1680.0,1377.5 L1681.0,1379.3 L1682.0,1381.0 L1683.0,1382.7 L1684.0,1384.4 L1685.0,1386.1 L1686.1,1387.8 L1687.2,1389.5 L1688.3,1391.2 L1689.4,1392.8 L1690.5,1394.5 L1691.6,1396.2 L1692.7,1397.8 L1693.9,1399.5 L1695.0,1401.1 L1696.1,1402.8 L1697.3,1404.4 L1698.5,1406.0 L1699.8,1407.5 L1701.1,1409.1 L1702.4,1410.6 L1703.7,1412.1 L1705.0,1413.6 L1706.3,1415.1 L1707.6,1416.6 L1709.0,1418.1 L1710.3,1419.6 L1711.7,1421.0 L1713.1,1422.4 L1714.5,1423.8 L1716.0,1425.1 L1717.6,1426.4 L1719.1,1427.6 L1720.7,1428.8 L1722.3,1430.0 L1723.9,1431.2 L1725.5,1432.4 L1727.1,1433.6 L1728.8,1434.7 L1730.4,1435.9 L1732.1,1436.9 L1733.8,1438.0 L1735.5,1439.0 L1737.3,1439.9 L1739.1,1440.8 L1740.8,1441.7 L1742.6,1442.6 L1744.4,1443.5 L1746.2,1444.4 L1748.0,1445.3 L1749.8,1446.1 L1751.6,1446.9 L1753.5,1447.6 L1755.4,1448.3 L1757.3,1448.9 L1759.2,1449.4 L1761.1,1449.9 L1763.1,1450.3 L1765.0,1450.8 L1767.0,1451.2 L1768.9,1451.6 L1770.9,1452.0 L1772.8,1452.4 L1774.8,1452.8 L1776.8,1453.2 L1778.7,1453.6 L1780.7,1454.0 L1782.7,1454.4 L1784.6,1454.8 L1786.6,1455.2 L1788.5,1455.6 L1790.5,1456.0 L1792.4,1456.4 L1794.4,1456.8 L1796.4,1457.2 L1798.3,1457.5 L1800.3,1457.8 L1802.3,1458.1 L1804.3,1458.3 L1806.3,1458.4 L1808.3,1458.6 L1810.2,1458.8 L1812.2,1458.9 L1814.2,1459.0 L1816.2,1459.1 L1818.2,1459.2 L1820.2,1459.3 L1822.2,1459.4 L1824.2,1459.4 L1826.2,1459.5 L1828.2,1459.5 L1830.2,1459.5 L1832.2,1459.6 L1834.2,1459.6 L1836.2,1459.7 L1838.2,1459.7 L1840.2,1459.7 L1842.2,1459.8 L1844.2,1459.8 L1846.2,1459.8 L1848.2,1459.9 L1850.2,1459.9 L1852.2,1460.0 L1854.2,1460.0 L1856.2,1460.0 L1858.2,1460.1 L1860.2,1460.1 L1862.2,1460.1 L1864.2,1460.1 L1866.2,1460.1 L1868.2,1460.1 L1870.2,1460.0 L1872.2,1459.8 L1874.2,1459.6 L1876.1,1459.3 L1878.0,1459.0 L1879.8,1458.7 L1881.6,1458.4 L1883.4,1458.3 L1885.1,1458.4 L1886.8,1458.6 L1888.5,1459.0 L1890.3,1459.4 L1892.2,1459.8 L1894.1,1460.0 L1896.0,1460.2 L1898.0,1460.2 L1900.0,1460.3 L1902.0,1460.3 L1904.0,1460.3 L1906.0,1460.3 L1908.0,1460.3 L1910.0,1460.3 L1912.0,1460.3 L1914.0,1460.3 L1916.0,1460.3 L1918.0,1460.3 L1920.0,1460.3 L1922.0,1460.3 L1924.0,1460.3 L1926.0,1460.3 L1928.0,1460.3 L1930.0,1460.3 L1932.0,1460.3 L1934.0,1460.3 L1936.0,1460.3 L1938.0,1460.3 L1940.0,1460.3 L1942.0,1460.3 L1944.0,1460.3 L1946.0,1460.3 L1948.0,1460.3 L1950.0,1460.3 L1952.0,1460.3 L1954.0,1460.3 L1956.0,1460.3 L1958.0,1460.3 L1960.0,1460.3 L1962.0,1460.3 L1964.0,1460.3 L1966.0,1460.3 L1968.0,1460.3 L1970.0,1460.3 L1972.0,1460.3 L1974.0,1460.3 L1976.0,1460.3 L1978.0,1460.3 L1980.0,1460.3 L1982.0,1460.3 L1984.0,1460.3 L1986.0,1460.3 L1988.0,1460.3 L1990.0,1460.3 L1992.0,1460.3 L1994.0,1460.3 L1996.0,1460.3 L1998.0,1460.3 L2000.0,1460.3 L2000.0,1460.3 L2214.0,1460.3" fill="none" stroke="#0000ff" stroke-width="4" stroke-linejoin="round" stroke-linecap="round"/>
<path d="M307.9,1328.8 L316.9,1294.9 L321.2,1310.6 L325.4,1294.9 L331.4,1309.4 L339.9,1303.4 L344.7,1320.3 L354.4,1303.4 L359.9,1310.6 L365.3,1293.1 L373.8,1313.0 L379.2,1278.0 L389.5,1291.3 L394.3,1291.9 L398.0,1297.9 L402.8,1278.0 L407.0,1296.7 L412.5,1286.4 L417.3,1297.9 L422.1,1281.6 L430.6,1281.6 L436.7,1286.4 L440.9,1294.3 L450.0,1265.9 L460.0,1276.7 L468.1,1265.0 L473.5,1255.9 L484.4,1260.4 L488.1,1240.5 L492.6,1249.5 L498.0,1235.9 L503.5,1230.5 L511.6,1210.6 L516.2,1211.5 L520.7,1206.9 L527.0,1206.0 L530.7,1174.3 L536.1,1175.2 L540.6,1184.3 L544.3,1150.7 L548.8,1140.7 L556.0,1134.4 L559.7,1107.2 L563.3,1090.9 L570.6,1080.0 L573.8,1060.5 L578.7,1021.8 L586.4,983.1 L592.2,944.4 L596.1,905.7 L600.0,867.0 L603.8,828.4 L607.2,753.9 L609.0,699.5 L609.9,645.1 L610.8,590.7 L612.3,554.4 L618.1,545.3 L619.0,518.1 L620.8,456.7 L622.1,449.4 L624.4,462.1 L628.1,483.9 L632.6,502.0 L638.0,520.1 L640.7,529.9 L642.6,539.9 L644.4,572.5 L646.2,608.8 L649.8,654.1 L654.3,699.5 L659.8,732.1 L664.3,752.0 L668.8,756.6 L674.3,741.2 L678.8,730.3 L681.5,699.5 L685.2,654.1 L688.8,608.8 L690.6,572.5 L692.4,527.2 L696.0,505.4 L697.9,500.0 L702.4,473.0 L710.6,469.3 L717.8,465.7 L723.2,456.7 L732.3,461.2 L735.9,471.2 L737.8,483.9 L739.6,511.1 L741.4,536.3 L745.0,572.5 L748.6,617.9 L752.3,663.2 L757.7,717.6 L761.3,753.9 L761.5,755.8 L761.6,757.8 L761.8,759.8 L762.0,761.8 L762.1,763.8 L762.3,765.8 L762.4,767.8 L762.6,769.8 L762.7,771.8 L762.9,773.8 L763.1,775.8 L763.2,777.8 L763.4,779.8 L763.5,781.8 L763.7,783.8 L763.8,785.8 L764.0,787.8 L764.2,789.8 L764.3,791.8 L764.5,793.8 L764.6,795.8 L764.8,797.7 L765.0,799.7 L765.1,801.7 L765.3,803.7 L765.5,805.7 L765.6,807.7 L765.8,809.7 L766.0,811.7 L766.2,813.7 L766.3,815.7 L766.5,817.7 L766.7,819.7 L766.9,821.7 L767.0,823.7 L767.2,825.7 L767.4,827.7 L767.6,829.6 L767.7,831.6 L767.9,833.6 L768.1,835.6 L768.3,837.6 L768.5,839.6 L768.6,841.6 L768.8,843.6 L769.0,845.6 L769.2,847.6 L769.3,849.6 L769.5,851.6 L769.7,853.6 L769.9,855.6 L770.0,857.6 L770.2,859.6 L770.4,861.5 L770.6,863.5 L770.7,865.5 L770.9,867.5 L771.1,869.5 L771.3,871.5 L771.4,873.5 L771.6,875.5 L771.8,877.5 L772.0,879.5 L772.1,881.5 L772.3,883.5 L772.5,885.5 L772.7,887.5 L772.8,889.5 L773.0,891.4 L773.2,893.4 L773.4,895.4 L773.5,897.4 L773.7,899.4 L773.9,901.4 L774.1,903.4 L774.3,905.4 L774.4,907.4 L774.6,909.4 L774.8,911.4 L775.0,913.4 L775.1,915.4 L775.3,917.4 L775.5,919.4 L775.7,921.4 L775.8,923.3 L776.0,925.3 L776.2,927.3 L776.4,929.3 L776.6,931.3 L776.8,933.3 L777.0,935.3 L777.2,937.3 L777.4,939.3 L777.6,941.3 L777.8,943.3 L778.0,945.3 L778.2,947.2 L778.4,949.2 L778.6,951.2 L778.8,953.2 L779.0,955.2 L779.2,957.2 L779.4,959.2 L779.6,961.2 L779.8,963.2 L780.0,965.2 L780.2,967.2 L780.4,969.2 L780.6,971.1 L780.8,973.1 L781.0,975.1 L781.2,977.1 L781.5,979.1 L781.7,981.1 L782.0,983.1 L782.3,985.0 L782.5,987.0 L782.8,989.0 L783.1,991.0 L783.4,993.0 L783.6,995.0 L783.9,996.9 L784.2,998.9 L784.4,1000.9 L784.7,1002.9 L785.0,1004.9 L785.3,1006.9 L785.5,1008.8 L785.8,1010.8 L786.1,1012.8 L786.4,1014.8 L786.6,1016.8 L786.9,1018.8 L787.1,1020.7 L787.4,1022.7 L787.7,1024.7 L787.9,1026.7 L788.2,1028.7 L788.4,1030.7 L788.7,1032.7 L788.9,1034.6 L789.2,1036.6 L789.4,1038.6 L789.6,1040.6 L789.9,1042.6 L790.1,1044.6 L790.4,1046.6 L790.6,1048.5 L790.9,1050.5 L791.1,1052.5 L791.4,1054.5 L791.6,1056.5 L791.9,1058.5 L792.1,1060.5 L792.4,1062.4 L792.6,1064.4 L792.9,1066.4 L793.1,1068.4 L793.4,1070.4 L793.6,1072.4 L793.9,1074.4 L794.1,1076.3 L794.4,1078.3 L794.6,1080.3 L794.9,1082.3 L795.1,1084.3 L795.4,1086.3 L795.6,1088.3 L795.9,1090.2 L796.1,1092.2 L796.4,1094.2 L796.7,1096.2 L797.0,1098.2 L797.3,1100.1 L797.6,1102.1 L797.9,1104.1 L798.2,1106.1 L798.5,1108.1 L798.9,1110.0 L799.2,1112.0 L799.5,1114.0 L799.9,1115.9 L800.3,1117.9 L800.6,1119.9 L801.1,1121.8 L801.5,1123.8 L802.0,1125.7 L802.5,1127.7 L803.0,1129.6 L803.4,1131.5 L803.9,1133.5 L804.3,1135.4 L804.7,1137.4 L805.1,1139.4 L805.4,1141.3 L805.8,1143.3 L806.2,1145.3 L806.5,1147.2 L806.9,1149.2 L807.2,1151.2 L807.6,1153.1 L808.0,1155.1 L808.4,1157.1 L808.8,1159.0 L809.2,1161.0 L809.6,1163.0 L810.0,1164.9 L810.4,1166.9 L810.7,1168.9 L811.1,1170.8 L811.5,1172.8 L811.9,1174.7 L812.3,1176.7 L812.7,1178.7 L813.1,1180.6 L813.5,1182.6 L813.9,1184.6 L814.3,1186.5 L814.7,1188.5 L815.1,1190.4 L815.5,1192.4 L816.0,1194.3 L816.6,1196.2 L817.1,1198.2 L817.8,1200.1 L818.4,1201.9 L819.1,1203.8 L819.8,1205.7 L820.5,1207.6 L821.2,1209.4 L822.0,1211.3 L822.8,1213.1 L823.7,1214.9 L824.5,1216.7 L825.4,1218.5 L826.2,1220.4 L827.0,1222.2 L827.8,1224.0 L828.7,1225.8 L829.5,1227.6 L830.5,1229.4 L831.5,1231.1 L832.6,1232.8 L833.6,1234.4 L834.8,1236.1 L835.9,1237.8 L837.0,1239.4 L838.1,1241.1 L839.2,1242.7 L840.3,1244.4 L841.5,1246.0 L842.7,1247.6 L843.9,1249.2 L845.2,1250.7 L846.6,1252.1 L848.0,1253.5 L849.5,1254.9 L850.9,1256.3 L852.3,1257.7 L853.8,1259.1 L855.2,1260.5 L856.6,1261.9 L858.0,1263.3 L859.4,1264.8 L860.8,1266.2 L862.1,1267.7 L863.4,1269.2 L864.8,1270.6 L866.2,1272.0 L867.7,1273.1 L869.4,1274.1 L871.1,1274.8 L872.9,1275.4 L874.8,1276.0 L876.7,1276.5 L878.6,1277.0 L880.4,1277.3 L882.3,1277.3 L884.1,1277.1 L885.8,1276.5 L887.5,1275.6 L889.2,1274.6 L890.8,1273.4 L892.3,1272.2 L893.8,1270.9 L895.3,1269.5 L896.8,1268.2 L898.3,1266.9 L899.8,1265.6 L901.3,1264.5 L903.0,1263.6 L904.7,1262.9 L906.5,1262.6 L908.4,1262.5 L910.2,1262.8 L912.0,1263.3 L913.7,1264.1 L915.3,1265.2 L916.8,1266.4 L918.3,1267.7 L919.8,1269.0 L921.3,1270.3 L922.8,1271.6 L924.4,1272.9 L925.9,1274.1 L927.5,1275.4 L929.1,1276.6 L930.7,1277.8 L932.3,1278.9 L934.0,1280.1 L935.6,1281.2 L937.3,1282.3 L939.0,1283.4 L940.7,1284.4 L942.4,1285.5 L944.1,1286.6 L945.8,1287.6 L947.4,1288.7 L949.1,1289.8 L950.8,1290.9 L952.4,1292.0 L954.1,1293.1 L955.8,1293.9 L957.6,1294.6 L959.4,1295.0 L961.3,1295.0 L963.2,1294.8 L965.0,1294.4 L966.9,1293.7 L968.6,1292.9 L970.3,1291.9 L971.9,1290.9 L973.6,1290.0 L975.3,1289.2 L977.2,1288.7 L979.0,1288.6 L980.8,1288.7 L982.6,1289.2 L984.3,1290.0 L985.8,1291.1 L987.2,1292.4 L988.6,1293.8 L990.0,1295.3 L991.4,1296.7 L992.8,1298.2 L994.2,1299.6 L995.6,1301.0 L996.3,1301.7 L1001.7,1309.9 L1003.1,1311.4 L1004.4,1312.8 L1005.8,1314.3 L1007.2,1315.7 L1008.7,1317.0 L1010.2,1318.3 L1011.7,1319.6 L1013.2,1320.8 L1014.8,1322.0 L1016.4,1323.1 L1018.0,1324.2 L1019.7,1325.2 L1021.4,1326.1 L1023.2,1326.9 L1025.0,1327.7 L1026.8,1328.5 L1028.6,1329.2 L1030.4,1330.0 L1032.2,1330.8 L1034.0,1331.6 L1035.8,1332.4 L1037.6,1333.2 L1039.4,1333.9 L1041.2,1334.7 L1043.1,1335.4 L1044.9,1336.2 L1046.8,1337.0 L1048.6,1337.8 L1050.4,1338.5 L1052.3,1339.2 L1054.2,1339.9 L1056.1,1340.5 L1058.0,1341.1 L1059.9,1341.7 L1061.8,1342.2 L1063.7,1342.7 L1065.7,1343.2 L1067.6,1343.6 L1069.6,1343.9 L1071.5,1344.2 L1073.5,1344.5 L1075.4,1344.8 L1077.4,1345.2 L1079.3,1345.6 L1081.2,1346.1 L1083.1,1346.5 L1085.1,1346.8 L1087.0,1347.1 L1089.0,1347.2 L1090.9,1347.2 L1092.9,1347.0 L1094.8,1346.8 L1096.8,1346.5 L1098.7,1346.2 L1100.7,1345.9 L1102.7,1345.7 L1104.6,1345.4 L1106.6,1345.2 L1108.6,1344.9 L1110.5,1344.6 L1112.5,1344.2 L1114.4,1343.8 L1116.4,1343.3 L1118.3,1342.8 L1120.2,1342.2 L1122.1,1341.6 L1124.0,1340.9 L1125.8,1340.1 L1127.6,1339.3 L1129.3,1338.4 L1131.1,1337.4 L1132.8,1336.3 L1134.4,1335.2 L1136.0,1334.1 L1137.7,1332.9 L1139.3,1331.8 L1140.9,1330.6 L1142.6,1329.6 L1144.3,1328.5 L1146.0,1327.5 L1147.7,1326.5 L1149.4,1325.4 L1151.1,1324.3 L1152.7,1323.2 L1154.2,1321.9 L1155.8,1320.7 L1157.3,1319.4 L1158.8,1318.1 L1160.3,1316.7 L1161.8,1315.4 L1163.3,1314.1 L1164.7,1312.7 L1166.2,1311.4 L1167.7,1310.0 L1169.2,1308.7 L1170.6,1307.3 L1172.0,1305.8 L1173.3,1304.4 L1174.7,1302.9 L1176.0,1301.4 L1177.4,1300.0 L1178.7,1298.5 L1180.1,1297.0 L1181.4,1295.5 L1182.7,1294.0 L1183.9,1292.5 L1185.0,1290.9 L1186.1,1289.2 L1187.2,1287.5 L1188.3,1285.9 L1189.4,1284.2 L1190.5,1282.6 L1191.6,1280.9 L1192.8,1279.3 L1193.9,1277.6 L1195.0,1276.0 L1196.1,1274.3 L1197.2,1272.6 L1198.2,1270.9 L1199.2,1269.2 L1200.2,1267.4 L1201.1,1265.7 L1202.0,1263.9 L1203.0,1262.1 L1203.9,1260.4 L1204.8,1258.6 L1205.8,1256.8 L1206.8,1255.1 L1207.7,1253.3 L1208.7,1251.6 L1209.7,1249.9 L1210.7,1248.2 L1211.8,1246.4 L1212.8,1244.7 L1213.8,1243.0 L1214.8,1241.3 L1215.8,1239.5 L1216.9,1237.8 L1217.9,1236.1 L1218.9,1234.4 L1219.9,1232.7 L1220.9,1230.9 L1221.9,1229.2 L1222.9,1227.5 L1223.9,1225.7 L1224.9,1224.0 L1225.8,1222.2 L1226.8,1220.5 L1227.8,1218.7 L1228.8,1217.0 L1229.7,1215.2 L1230.7,1213.5 L1231.7,1211.7 L1232.6,1210.0 L1233.6,1208.2 L1234.6,1206.5 L1235.6,1204.7 L1236.5,1203.0 L1237.5,1201.2 L1238.5,1199.5 L1239.4,1197.7 L1240.4,1196.0 L1241.4,1194.2 L1242.4,1192.5 L1243.3,1190.7 L1244.3,1189.0 L1245.2,1187.2 L1246.2,1185.4 L1247.1,1183.7 L1248.0,1181.9 L1248.9,1180.1 L1249.8,1178.3 L1250.7,1176.5 L1251.6,1174.7 L1252.5,1172.9 L1253.4,1171.2 L1254.3,1169.4 L1255.1,1167.6 L1256.0,1165.8 L1256.9,1164.0 L1257.7,1162.1 L1258.5,1160.3 L1259.3,1158.5 L1260.1,1156.6 L1260.8,1154.8 L1261.6,1152.9 L1262.3,1151.1 L1263.1,1149.2 L1263.8,1147.4 L1264.5,1145.5 L1265.3,1143.6 L1266.0,1141.8 L1266.8,1139.9 L1267.5,1138.1 L1268.3,1136.2 L1269.0,1134.4 L1269.7,1132.5 L1270.5,1130.6 L1271.2,1128.8 L1272.0,1126.9 L1272.7,1125.1 L1273.5,1123.2 L1274.2,1121.3 L1274.9,1119.5 L1275.7,1117.6 L1276.4,1115.8 L1277.2,1113.9 L1277.9,1112.1 L1278.7,1110.2 L1279.4,1108.3 L1280.1,1106.5 L1280.9,1104.6 L1281.6,1102.8 L1282.4,1100.9 L1283.1,1099.1 L1283.9,1097.2 L1284.6,1095.3 L1285.3,1093.5 L1286.0,1091.6 L1286.7,1089.7 L1287.4,1087.9 L1288.1,1086.0 L1288.7,1084.1 L1289.4,1082.2 L1290.0,1080.3 L1290.6,1078.4 L1291.3,1076.5 L1291.9,1074.6 L1292.5,1072.7 L1293.2,1070.8 L1293.8,1068.9 L1294.5,1067.0 L1295.1,1065.1 L1295.7,1063.2 L1296.4,1061.3 L1297.1,1059.4 L1297.7,1057.5 L1298.4,1055.7 L1299.1,1053.8 L1299.8,1051.9 L1300.6,1050.1 L1301.3,1048.2 L1302.2,1046.4 L1303.0,1044.6 L1303.8,1042.8 L1304.7,1041.0 L1305.6,1039.2 L1306.4,1037.4 L1307.3,1035.6 L1308.1,1033.8 L1309.0,1031.9 L1309.8,1030.1 L1310.6,1028.3 L1311.4,1026.5 L1312.2,1024.6 L1313.0,1022.8 L1313.7,1020.9 L1314.5,1019.1 L1315.2,1017.2 L1316.0,1015.4 L1316.7,1013.5 L1317.5,1011.7 L1318.2,1009.8 L1319.0,1007.9 L1319.8,1006.1 L1320.5,1004.2 L1321.3,1002.4 L1322.0,1000.5 L1322.8,998.7 L1323.6,996.9 L1324.4,995.0 L1325.2,993.2 L1325.9,991.3 L1326.7,989.5 L1327.5,987.6 L1328.3,985.8 L1329.0,984.0 L1329.8,982.1 L1330.5,980.2 L1331.1,978.3 L1331.8,976.4 L1332.4,974.5 L1333.0,972.6 L1333.6,970.7 L1334.2,968.8 L1334.8,966.9 L1335.5,965.1 L1336.2,963.2 L1337.0,961.4 L1337.8,959.6 L1338.7,957.8 L1339.6,956.0 L1340.5,954.2 L1341.5,952.4 L1342.4,950.7 L1343.4,948.9 L1344.3,947.2 L1345.3,945.4 L1346.2,943.6 L1347.1,941.9 L1348.1,940.1 L1349.0,938.3 L1349.9,936.5 L1350.8,934.7 L1351.7,932.9 L1352.6,931.1 L1353.4,929.4 L1354.3,927.6 L1355.2,925.8 L1356.1,924.0 L1357.0,922.2 L1357.8,920.4 L1358.7,918.6 L1359.5,916.7 L1360.4,914.9 L1361.2,913.1 L1362.0,911.3 L1362.9,909.5 L1363.8,907.7 L1364.7,905.9 L1365.6,904.1 L1366.5,902.4 L1367.5,900.6 L1368.5,898.9 L1369.6,897.2 L1370.6,895.5 L1371.7,893.8 L1372.7,892.1 L1373.7,890.4 L1374.7,888.6 L1375.6,886.8 L1376.5,885.1 L1377.3,883.2 L1378.1,881.4 L1378.9,879.6 L1379.7,877.7 L1380.5,875.9 L1381.3,874.1 L1382.2,872.3 L1383.2,870.6 L1384.2,868.9 L1385.2,867.2 L1386.3,865.5 L1387.4,863.8 L1388.6,862.2 L1389.7,860.6 L1390.9,858.9 L1392.1,857.3 L1393.3,855.7 L1394.5,854.1 L1395.7,852.6 L1397.0,851.0 L1398.2,849.5 L1399.5,847.9 L1400.8,846.4 L1402.2,844.9 L1403.5,843.4 L1404.9,842.0 L1406.2,840.5 L1407.7,839.1 L1409.1,837.8 L1410.6,836.5 L1412.2,835.3 L1413.8,834.2 L1415.5,833.2 L1417.3,832.4 L1419.1,831.6 L1420.9,830.8 L1422.8,830.2 L1424.7,829.6 L1426.6,829.1 L1428.6,828.6 L1430.5,828.3 L1432.5,828.1 L1434.5,828.0 L1436.4,828.1 L1438.4,828.2 L1440.4,828.4 L1442.3,828.8 L1444.2,829.2 L1446.1,829.8 L1448.0,830.4 L1449.9,831.1 L1451.7,831.8 L1453.5,832.7 L1455.3,833.6 L1457.0,834.6 L1458.6,835.6 L1460.2,836.8 L1461.8,838.0 L1463.3,839.3 L1464.8,840.6 L1466.4,841.9 L1467.9,843.2 L1469.4,844.5 L1470.9,845.9 L1472.3,847.2 L1473.8,848.6 L1475.2,850.0 L1476.6,851.4 L1478.0,852.8 L1479.3,854.3 L1480.6,855.8 L1481.8,857.4 L1483.0,859.0 L1484.2,860.6 L1485.3,862.2 L1486.5,863.9 L1487.6,865.5 L1488.7,867.2 L1489.9,868.8 L1491.0,870.4 L1492.2,872.1 L1493.4,873.7 L1494.5,875.3 L1495.6,877.0 L1496.8,878.6 L1497.9,880.3 L1498.9,882.0 L1500.0,883.7 L1501.0,885.4 L1501.9,887.2 L1502.9,888.9 L1503.8,890.7 L1504.8,892.5 L1505.7,894.2 L1506.6,896.0 L1507.5,897.8 L1508.5,899.5 L1509.4,901.3 L1510.4,903.1 L1511.4,904.8 L1512.3,906.6 L1513.3,908.3 L1514.2,910.1 L1515.1,911.9 L1516.0,913.7 L1516.8,915.5 L1517.7,917.3 L1518.5,919.1 L1519.3,921.0 L1520.1,922.8 L1520.9,924.6 L1521.7,926.5 L1522.5,928.3 L1523.3,930.1 L1524.1,932.0 L1524.8,933.8 L1525.6,935.7 L1526.4,937.5 L1527.2,939.3 L1528.0,941.2 L1528.8,943.0 L1529.6,944.9 L1530.3,946.7 L1531.0,948.6 L1531.8,950.4 L1532.4,952.3 L1533.1,954.2 L1533.7,956.1 L1534.3,958.0 L1534.9,959.9 L1535.5,961.8 L1536.2,963.7 L1536.8,965.6 L1537.5,967.5 L1538.1,969.4 L1538.8,971.2 L1539.5,973.1 L1540.2,975.0 L1540.9,976.9 L1541.5,978.8 L1542.0,980.7 L1542.6,982.6 L1543.2,984.5 L1543.7,986.4 L1544.3,988.3 L1544.8,990.3 L1545.4,992.2 L1545.9,994.1 L1546.5,996.0 L1547.0,998.0 L1547.6,999.9 L1548.1,1001.8 L1548.7,1003.7 L1549.2,1005.7 L1549.8,1007.6 L1550.3,1009.5 L1550.9,1011.4 L1551.4,1013.4 L1552.0,1015.3 L1552.5,1017.2 L1553.1,1019.1 L1553.6,1021.1 L1554.2,1023.0 L1554.7,1024.9 L1555.3,1026.8 L1555.8,1028.7 L1556.4,1030.7 L1556.9,1032.6 L1557.5,1034.5 L1558.0,1036.4 L1558.6,1038.4 L1559.1,1040.3 L1559.7,1042.2 L1560.2,1044.1 L1560.8,1046.1 L1561.3,1048.0 L1561.9,1049.9 L1562.4,1051.8 L1563.0,1053.8 L1563.5,1055.7 L1564.1,1057.6 L1564.6,1059.5 L1565.2,1061.5 L1565.7,1063.4 L1566.3,1065.3 L1566.8,1067.2 L1567.4,1069.1 L1567.9,1071.1 L1568.4,1073.0 L1569.0,1074.9 L1569.5,1076.9 L1570.0,1078.8 L1570.6,1080.7 L1571.1,1082.6 L1571.6,1084.6 L1572.1,1086.5 L1572.6,1088.4 L1573.1,1090.4 L1573.6,1092.3 L1574.2,1094.2 L1574.7,1096.2 L1575.2,1098.1 L1575.7,1100.0 L1576.2,1102.0 L1576.7,1103.9 L1577.3,1105.8 L1577.8,1107.8 L1578.3,1109.7 L1578.8,1111.6 L1579.4,1113.6 L1579.9,1115.5 L1580.5,1117.4 L1581.0,1119.3 L1581.6,1121.3 L1582.1,1123.2 L1582.7,1125.1 L1583.2,1127.0 L1583.8,1129.0 L1584.3,1130.9 L1584.9,1132.8 L1585.4,1134.7 L1586.0,1136.7 L1586.5,1138.6 L1587.1,1140.5 L1587.6,1142.4 L1588.2,1144.3 L1588.8,1146.3 L1589.3,1148.2 L1589.9,1150.1 L1590.5,1152.0 L1591.1,1153.9 L1591.7,1155.8 L1592.3,1157.7 L1592.8,1159.7 L1593.4,1161.6 L1594.0,1163.5 L1594.6,1165.4 L1595.2,1167.3 L1595.8,1169.2 L1596.4,1171.1 L1597.0,1173.0 L1597.6,1174.9 L1598.2,1176.8 L1598.8,1178.7 L1599.4,1180.7 L1600.1,1182.6 L1600.7,1184.5 L1601.3,1186.3 L1601.9,1188.2 L1602.6,1190.1 L1603.2,1192.0 L1603.8,1193.9 L1604.5,1195.8 L1605.1,1197.7 L1605.7,1199.6 L1606.4,1201.5 L1607.0,1203.4 L1607.6,1205.3 L1608.3,1207.2 L1608.9,1209.1 L1609.5,1211.0 L1610.2,1212.9 L1610.8,1214.8 L1611.4,1216.7 L1612.1,1218.6 L1612.7,1220.5 L1613.3,1222.4 L1613.9,1224.3 L1614.5,1226.2 L1615.1,1228.1 L1615.6,1230.1 L1616.2,1232.0 L1616.7,1233.9 L1617.2,1235.9 L1617.8,1237.8 L1618.3,1239.7 L1618.8,1241.7 L1619.3,1243.6 L1619.8,1245.5 L1620.4,1247.4 L1621.0,1249.3 L1621.6,1251.3 L1622.2,1253.2 L1622.8,1255.1 L1623.5,1257.0 L1624.1,1258.8 L1624.7,1260.7 L1625.4,1262.6 L1626.0,1264.5 L1626.7,1266.4 L1627.3,1268.3 L1627.9,1270.2 L1628.6,1272.1 L1629.2,1274.0 L1629.8,1275.9 L1630.4,1277.8 L1631.0,1279.7 L1631.6,1281.6 L1632.2,1283.6 L1632.8,1285.5 L1633.3,1287.4 L1633.9,1289.3 L1634.5,1291.2 L1635.1,1293.1 L1635.7,1295.0 L1636.3,1296.9 L1636.9,1298.8 L1637.6,1300.7 L1638.2,1302.6 L1638.9,1304.5 L1639.5,1306.4 L1640.2,1308.3 L1640.9,1310.2 L1641.5,1312.1 L1642.2,1314.0 L1642.9,1315.8 L1643.5,1317.7 L1644.2,1319.6 L1644.8,1321.5 L1645.5,1323.4 L1646.1,1325.3 L1646.8,1327.2 L1647.5,1329.1 L1648.2,1330.9 L1648.9,1332.8 L1649.7,1334.6 L1650.5,1336.5 L1651.3,1338.3 L1652.1,1340.1 L1652.9,1342.0 L1653.7,1343.8 L1654.4,1345.6 L1655.2,1347.5 L1656.0,1349.3 L1656.7,1351.2 L1657.5,1353.0 L1658.3,1354.9 L1659.1,1356.7 L1659.9,1358.6 L1660.7,1360.4 L1661.5,1362.2 L1662.4,1364.0 L1663.2,1365.8 L1664.1,1367.6 L1665.0,1369.4 L1665.9,1371.2 L1666.8,1373.0 L1667.8,1374.7 L1668.7,1376.5 L1669.7,1378.2 L1670.7,1380.0 L1671.7,1381.7 L1672.7,1383.4 L1673.7,1385.2 L1674.7,1386.9 L1675.7,1388.6 L1676.8,1390.3 L1677.8,1392.0 L1678.9,1393.7 L1679.9,1395.4 L1681.0,1397.1 L1682.1,1398.8 L1683.2,1400.4 L1684.3,1402.1 L1685.5,1403.7 L1686.7,1405.3 L1687.9,1406.9 L1689.1,1408.5 L1690.4,1410.0 L1691.7,1411.5 L1693.0,1413.0 L1694.4,1414.5 L1695.8,1415.9 L1697.2,1417.4 L1698.5,1418.8 L1699.9,1420.3 L1701.3,1421.7 L1702.7,1423.2 L1704.0,1424.7 L1705.3,1426.1 L1706.7,1427.6 L1708.0,1429.1 L1709.4,1430.6 L1710.8,1432.0 L1712.2,1433.4 L1713.7,1434.7 L1715.2,1436.0 L1716.8,1437.3 L1718.3,1438.5 L1719.9,1439.7 L1721.5,1440.9 L1723.1,1442.1 L1724.7,1443.3 L1726.3,1444.5 L1727.9,1445.7 L1729.5,1446.8 L1731.1,1447.8 L1732.8,1448.8 L1734.6,1449.7 L1736.4,1450.5 L1738.2,1451.2 L1740.0,1452.0 L1741.8,1452.8 L1743.6,1453.6 L1745.5,1454.3 L1747.3,1455.0 L1749.2,1455.6 L1751.1,1456.3 L1753.0,1456.9 L1754.9,1457.4 L1756.8,1458.0 L1758.8,1458.6 L1760.7,1459.1 L1762.6,1459.6 L1764.6,1460.1 L1766.5,1460.4 L1768.5,1460.7 L1770.4,1461.0 L1772.4,1461.2 L1774.4,1461.3 L1776.4,1461.4 L1778.4,1461.6 L1780.4,1461.7 L1782.4,1461.8 L1784.4,1461.9 L1786.4,1462.0 L1788.4,1462.1 L1788.4,1462.1" fill="none" stroke="#008080" stroke-width="3.2" stroke-linejoin="round" stroke-linecap="round"/>
<rect x="1767.5" y="75.5" width="427.0" height="342.5" fill="none" stroke="#000" stroke-width="3"/>
<path d="M1792.8,125 L1946.8,125" stroke="#000000" stroke-width="4" stroke-linecap="round" fill="none"/>
<path d="M1791.3,209.5 L1949,209.5" stroke="#ff0000" stroke-width="3" stroke-linecap="butt" fill="none"/>
<path d="M1792.8,294 L1946.8,294" stroke="#0000ff" stroke-width="4" stroke-linecap="round" fill="none"/>
<path d="M1791.3,378.4 L1949,378.4" stroke="#008080" stroke-width="3" stroke-linecap="butt" fill="none"/>
<g font-family="'Liberation Sans', Arial, sans-serif" font-weight="bold" fill="#000">
<text transform="translate(177.50,75.50) scale(0.9117,1)" font-size="65.87">1.0</text>
<text transform="translate(176.00,1478.50) scale(0.9197,1)" font-size="66.16">0.0</text>
<text transform="translate(176.50,1197.50) scale(0.9112,1)" font-size="66.45">0.2</text>
<text transform="translate(257.25,1554.50) scale(0.9117,1)" font-size="67.01">200</text>
<text transform="translate(734.00,1555.00) scale(0.9264,1)" font-size="65.86">300</text>
<text transform="translate(2162.50,1554.50) scale(0.9360,1)" font-size="65.86">600</text>
<text transform="translate(979.00,1670.50) scale(0.9731,1)" font-size="67.60">Wavelength ( nm )</text>
<text transform="translate(72.50,967.00) rotate(-90) scale(1.0207,1)" font-size="68.60">Absorbance</text>
<text transform="translate(1965.50,147.50) scale(0.9375,1)" font-size="71.94">NI</text>
<text transform="translate(1965.50,232.00) scale(0.9312,1)" font-size="72.50">NI-Br</text>
<text transform="translate(1965.50,317.50) scale(0.8836,1)" font-size="74.78">SN-2NI</text>
<text transform="translate(1965.50,401.00) scale(0.9038,1)" font-size="73.09">SD-NI</text>
<text transform="translate(176.50,916.40) scale(0.9076,1)" font-size="66.73">0.4</text>
<text transform="translate(176.50,638.30) scale(0.9152,1)" font-size="66.15">0.6</text>
<text transform="translate(176.50,356.20) scale(0.9073,1)" font-size="66.73">0.8</text>
<text transform="translate(1211.00,1555.00) scale(0.8960,1)" font-size="66.73">400</text>
<text transform="translate(1687.00,1555.00) scale(0.9144,1)" font-size="66.73">500</text>
</g>
</svg>
</body></html>
